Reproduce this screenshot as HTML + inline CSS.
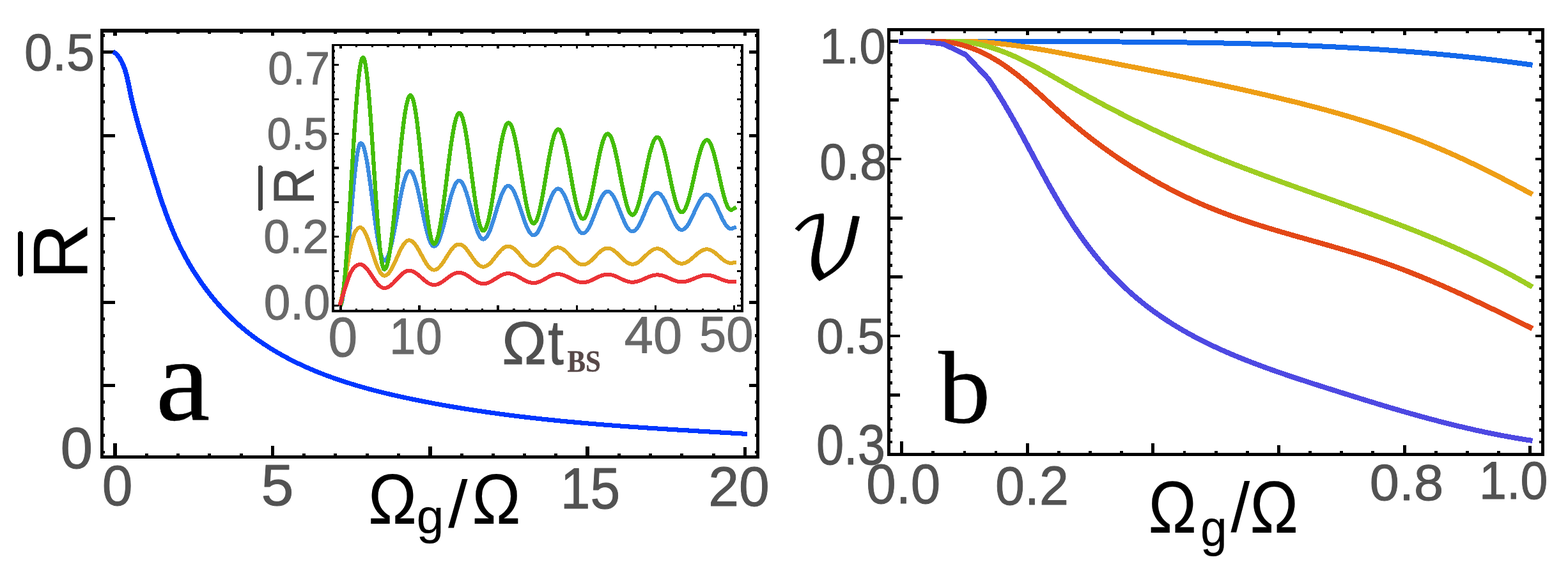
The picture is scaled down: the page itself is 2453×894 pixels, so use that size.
<!DOCTYPE html>
<html lang="en"><head><meta charset="utf-8"><title>Figure</title>
<style>
html,body{margin:0;padding:0;background:#fff;}
body{width:2453px;height:894px;overflow:hidden;font-family:"Liberation Sans",Arial,sans-serif;}
svg{display:block;}
text{white-space:pre;}
</style></head>
<body>
<svg width="2453" height="894" viewBox="0 0 2453 894" shape-rendering="crispEdges">
<rect x="0" y="0" width="2453" height="894" fill="#fff"/>
<rect x="177.25" y="694" width="5.5" height="20" fill="#000"/>
<rect x="177.25" y="50" width="5.5" height="6" fill="#000"/>
<rect x="423.62" y="697.5" width="5.5" height="16.5" fill="#000"/>
<rect x="423.62" y="50" width="5.5" height="6" fill="#000"/>
<rect x="670" y="698.5" width="5.5" height="15.5" fill="#000"/>
<rect x="670" y="50" width="5.5" height="6" fill="#000"/>
<rect x="916.38" y="699" width="5.5" height="15" fill="#000"/>
<rect x="916.38" y="50" width="5.5" height="6" fill="#000"/>
<rect x="1162.75" y="700" width="5.5" height="14" fill="#000"/>
<rect x="1162.75" y="50" width="5.5" height="6" fill="#000"/>
<rect x="226.78" y="710" width="5" height="4" fill="#000"/>
<rect x="226.78" y="50" width="5" height="3" fill="#000"/>
<rect x="276.05" y="710" width="5" height="4" fill="#000"/>
<rect x="276.05" y="50" width="5" height="3" fill="#000"/>
<rect x="325.32" y="710" width="5" height="4" fill="#000"/>
<rect x="325.32" y="50" width="5" height="3" fill="#000"/>
<rect x="374.6" y="710" width="5" height="4" fill="#000"/>
<rect x="374.6" y="50" width="5" height="3" fill="#000"/>
<rect x="473.15" y="710" width="5" height="4" fill="#000"/>
<rect x="473.15" y="50" width="5" height="3" fill="#000"/>
<rect x="522.42" y="710" width="5" height="4" fill="#000"/>
<rect x="522.42" y="50" width="5" height="3" fill="#000"/>
<rect x="571.7" y="710" width="5" height="4" fill="#000"/>
<rect x="571.7" y="50" width="5" height="3" fill="#000"/>
<rect x="620.97" y="710" width="5" height="4" fill="#000"/>
<rect x="620.97" y="50" width="5" height="3" fill="#000"/>
<rect x="719.52" y="710" width="5" height="4" fill="#000"/>
<rect x="719.52" y="50" width="5" height="3" fill="#000"/>
<rect x="768.8" y="710" width="5" height="4" fill="#000"/>
<rect x="768.8" y="50" width="5" height="3" fill="#000"/>
<rect x="818.07" y="710" width="5" height="4" fill="#000"/>
<rect x="818.07" y="50" width="5" height="3" fill="#000"/>
<rect x="867.35" y="710" width="5" height="4" fill="#000"/>
<rect x="867.35" y="50" width="5" height="3" fill="#000"/>
<rect x="965.9" y="710" width="5" height="4" fill="#000"/>
<rect x="965.9" y="50" width="5" height="3" fill="#000"/>
<rect x="1015.17" y="710" width="5" height="4" fill="#000"/>
<rect x="1015.17" y="50" width="5" height="3" fill="#000"/>
<rect x="1064.45" y="710" width="5" height="4" fill="#000"/>
<rect x="1064.45" y="50" width="5" height="3" fill="#000"/>
<rect x="1113.72" y="710" width="5" height="4" fill="#000"/>
<rect x="1113.72" y="50" width="5" height="3" fill="#000"/>
<rect x="161" y="79" width="19" height="5" fill="#000"/>
<rect x="1172" y="79" width="12" height="5" fill="#000"/>
<rect x="161" y="209.5" width="19" height="5" fill="#000"/>
<rect x="1172" y="209.5" width="12" height="5" fill="#000"/>
<rect x="161" y="340" width="19" height="5" fill="#000"/>
<rect x="161" y="470.5" width="19" height="5" fill="#000"/>
<rect x="1172" y="470.5" width="12" height="5" fill="#000"/>
<rect x="161" y="601" width="19" height="5" fill="#000"/>
<rect x="1172" y="601" width="12" height="5" fill="#000"/>
<rect x="161" y="53" width="3" height="4.8" fill="#000"/>
<rect x="1181" y="53" width="3" height="4.8" fill="#000"/>
<rect x="161" y="105.2" width="3" height="4.8" fill="#000"/>
<rect x="1181" y="105.2" width="3" height="4.8" fill="#000"/>
<rect x="161" y="131.3" width="3" height="4.8" fill="#000"/>
<rect x="1181" y="131.3" width="3" height="4.8" fill="#000"/>
<rect x="161" y="157.4" width="3" height="4.8" fill="#000"/>
<rect x="1181" y="157.4" width="3" height="4.8" fill="#000"/>
<rect x="161" y="183.5" width="3" height="4.8" fill="#000"/>
<rect x="1181" y="183.5" width="3" height="4.8" fill="#000"/>
<rect x="161" y="235.7" width="3" height="4.8" fill="#000"/>
<rect x="1181" y="235.7" width="3" height="4.8" fill="#000"/>
<rect x="161" y="261.8" width="3" height="4.8" fill="#000"/>
<rect x="1181" y="261.8" width="3" height="4.8" fill="#000"/>
<rect x="161" y="287.9" width="3" height="4.8" fill="#000"/>
<rect x="1181" y="287.9" width="3" height="4.8" fill="#000"/>
<rect x="161" y="314" width="3" height="4.8" fill="#000"/>
<rect x="1181" y="314" width="3" height="4.8" fill="#000"/>
<rect x="161" y="366.2" width="3" height="4.8" fill="#000"/>
<rect x="1181" y="366.2" width="3" height="4.8" fill="#000"/>
<rect x="161" y="392.3" width="3" height="4.8" fill="#000"/>
<rect x="1181" y="392.3" width="3" height="4.8" fill="#000"/>
<rect x="161" y="418.4" width="3" height="4.8" fill="#000"/>
<rect x="1181" y="418.4" width="3" height="4.8" fill="#000"/>
<rect x="161" y="444.5" width="3" height="4.8" fill="#000"/>
<rect x="1181" y="444.5" width="3" height="4.8" fill="#000"/>
<rect x="161" y="496.7" width="3" height="4.8" fill="#000"/>
<rect x="1181" y="496.7" width="3" height="4.8" fill="#000"/>
<rect x="161" y="522.8" width="3" height="4.8" fill="#000"/>
<rect x="1181" y="522.8" width="3" height="4.8" fill="#000"/>
<rect x="161" y="548.9" width="3" height="4.8" fill="#000"/>
<rect x="1181" y="548.9" width="3" height="4.8" fill="#000"/>
<rect x="161" y="575" width="3" height="4.8" fill="#000"/>
<rect x="1181" y="575" width="3" height="4.8" fill="#000"/>
<rect x="161" y="627.2" width="3" height="4.8" fill="#000"/>
<rect x="1181" y="627.2" width="3" height="4.8" fill="#000"/>
<rect x="161" y="653.3" width="3" height="4.8" fill="#000"/>
<rect x="1181" y="653.3" width="3" height="4.8" fill="#000"/>
<rect x="161" y="679.4" width="3" height="4.8" fill="#000"/>
<rect x="1181" y="679.4" width="3" height="4.8" fill="#000"/>
<rect x="161" y="705.5" width="3" height="4.8" fill="#000"/>
<rect x="1181" y="705.5" width="3" height="4.8" fill="#000"/>
<rect x="157" y="45" width="1031" height="6" fill="#000"/>
<rect x="157" y="713" width="1031" height="5" fill="#000"/>
<rect x="157" y="45" width="5" height="673" fill="#000"/>
<rect x="1183" y="45" width="5" height="673" fill="#000"/>
<path d="M163.71 81.09 L165.77 82.3 L167.6 83.76 L169.24 85.42 L170.73 87.25 L172.08 89.2 L173.35 91.23 L174.54 93.31 L175.65 95.46 L176.69 97.66 L177.67 99.91 L178.59 102.21 L179.45 104.56 L180.25 106.94 L181.01 109.37 L181.72 111.83 L182.39 114.32 L183.03 116.84 L183.63 119.39 L184.2 121.96 L184.75 124.54 L185.29 127.15 L185.8 129.77 L186.31 132.4 L186.8 135.03 L187.3 137.67 L187.79 140.31 L188.29 142.95 L188.8 145.58 L189.32 148.2 L189.85 150.82 L190.39 153.43 L190.94 156.04 L191.49 158.64 L192.06 161.24 L192.63 163.83 L193.21 166.41 L193.8 168.99 L194.4 171.57 L195 174.14 L195.61 176.71 L196.23 179.27 L196.85 181.83 L197.48 184.38 L198.12 186.93 L198.76 189.47 L199.41 192.02 L200.06 194.55 L200.72 197.09 L201.38 199.62 L202.05 202.15 L202.72 204.67 L203.4 207.19 L204.08 209.71 L204.76 212.23 L205.45 214.74 L206.14 217.25 L206.83 219.76 L207.52 222.27 L208.22 224.77 L208.92 227.27 L209.62 229.77 L210.32 232.27 L211.02 234.77 L211.73 237.27 L212.43 239.76 L213.14 242.26 L213.84 244.75 L214.55 247.24 L215.25 249.73 L215.96 252.22 L216.66 254.72 L217.37 257.21 L218.07 259.7 L218.77 262.19 L219.47 264.68 L220.18 267.16 L220.88 269.65 L221.58 272.14 L222.29 274.63 L223 277.11 L223.7 279.59 L224.41 282.08 L225.13 284.56 L225.84 287.04 L226.56 289.52 L227.28 292 L228.01 294.48 L228.74 296.95 L229.47 299.42 L230.2 301.9 L230.95 304.37 L231.69 306.83 L232.44 309.3 L233.2 311.76 L233.96 314.23 L234.73 316.69 L235.51 319.14 L236.29 321.6 L237.08 324.05 L237.88 326.5 L238.68 328.95 L239.49 331.4 L240.31 333.84 L241.14 336.28 L241.97 338.71 L242.82 341.15 L243.67 343.58 L244.54 346.01 L245.41 348.43 L246.3 350.85 L247.19 353.27 L248.09 355.68 L249.01 358.09 L249.94 360.5 L250.88 362.91 L251.83 365.31 L252.79 367.7 L253.77 370.09 L254.75 372.48 L255.75 374.87 L256.77 377.25 L257.8 379.62 L258.84 381.99 L259.89 384.36 L260.96 386.72 L262.05 389.08 L263.15 391.43 L264.26 393.78 L265.39 396.13 L266.54 398.46 L267.7 400.8 L268.87 403.12 L270.06 405.44 L271.26 407.76 L272.47 410.06 L273.7 412.37 L274.95 414.66 L276.21 416.95 L277.48 419.22 L278.76 421.5 L280.06 423.76 L281.37 426.02 L282.7 428.26 L284.04 430.5 L285.39 432.73 L286.76 434.95 L288.14 437.16 L289.53 439.36 L290.94 441.56 L292.36 443.74 L293.79 445.91 L295.23 448.07 L296.69 450.22 L298.16 452.36 L299.64 454.49 L301.14 456.61 L302.65 458.71 L304.17 460.8 L305.7 462.89 L307.24 464.95 L308.8 467.01 L310.37 469.05 L311.94 471.09 L313.54 473.1 L315.14 475.11 L316.75 477.1 L318.38 479.07 L320.02 481.04 L321.67 482.98 L323.33 484.92 L325 486.83 L326.68 488.74 L328.38 490.62 L330.08 492.5 L331.8 494.35 L333.52 496.19 L335.26 498.02 L337.01 499.83 L338.77 501.62 L340.54 503.39 L342.32 505.15 L344.11 506.89 L345.91 508.62 L347.72 510.33 L349.54 512.02 L351.37 513.7 L353.2 515.36 L355.05 517 L356.91 518.64 L358.78 520.25 L360.66 521.85 L362.55 523.43 L364.45 525 L366.35 526.56 L368.27 528.1 L370.19 529.62 L372.13 531.13 L374.07 532.63 L376.02 534.11 L377.98 535.57 L379.95 537.02 L381.93 538.46 L383.91 539.88 L385.9 541.29 L387.91 542.69 L389.92 544.07 L391.94 545.44 L393.96 546.79 L396 548.13 L398.04 549.46 L400.09 550.77 L402.15 552.07 L404.22 553.36 L406.29 554.63 L408.37 555.89 L410.46 557.14 L412.55 558.37 L414.66 559.6 L416.77 560.81 L418.88 562 L421.01 563.19 L423.14 564.36 L425.27 565.52 L427.42 566.67 L429.57 567.81 L431.73 568.93 L433.89 570.04 L436.06 571.15 L438.24 572.24 L440.42 573.31 L442.61 574.38 L444.8 575.44 L447 576.48 L449.21 577.52 L451.42 578.54 L453.64 579.55 L455.86 580.55 L458.09 581.54 L460.32 582.52 L462.56 583.49 L464.81 584.45 L467.06 585.4 L469.31 586.34 L471.57 587.27 L473.83 588.18 L476.1 589.09 L478.38 589.99 L480.66 590.88 L482.94 591.76 L485.23 592.63 L487.52 593.49 L489.81 594.34 L492.11 595.19 L494.42 596.02 L496.73 596.85 L499.04 597.66 L501.36 598.47 L503.68 599.27 L506 600.06 L508.33 600.84 L510.66 601.61 L512.99 602.38 L515.33 603.14 L517.67 603.88 L520.01 604.63 L522.36 605.36 L524.71 606.08 L527.06 606.8 L529.42 607.51 L531.78 608.22 L534.14 608.91 L536.5 609.6 L538.87 610.28 L541.24 610.95 L543.61 611.62 L545.98 612.28 L548.36 612.94 L550.73 613.58 L553.11 614.22 L555.49 614.86 L557.87 615.49 L560.26 616.11 L562.65 616.72 L565.03 617.33 L567.42 617.94 L569.81 618.54 L572.2 619.13 L574.6 619.71 L576.99 620.3 L579.38 620.87 L581.78 621.44 L584.18 622.01 L586.57 622.57 L588.97 623.12 L591.37 623.67 L593.77 624.22 L596.17 624.76 L598.57 625.29 L600.97 625.83 L603.37 626.35 L605.77 626.88 L608.17 627.39 L610.57 627.91 L612.97 628.42 L615.37 628.93 L617.77 629.43 L620.17 629.93 L622.57 630.42 L624.97 630.91 L627.37 631.4 L629.76 631.88 L632.16 632.36 L634.56 632.84 L636.96 633.31 L639.36 633.78 L641.76 634.24 L644.16 634.7 L646.55 635.16 L648.95 635.61 L651.35 636.06 L653.75 636.51 L656.14 636.95 L658.54 637.39 L660.94 637.82 L663.34 638.25 L665.73 638.68 L668.13 639.11 L670.53 639.53 L672.92 639.94 L675.32 640.36 L677.72 640.77 L680.12 641.18 L682.51 641.58 L684.91 641.98 L687.31 642.38 L689.7 642.77 L692.1 643.16 L694.5 643.55 L696.89 643.93 L699.29 644.32 L701.68 644.69 L704.08 645.07 L706.48 645.44 L708.87 645.81 L711.27 646.17 L713.67 646.54 L716.06 646.89 L718.46 647.25 L720.86 647.6 L723.25 647.95 L725.65 648.3 L728.05 648.65 L730.44 648.99 L732.84 649.32 L735.24 649.66 L737.63 649.99 L740.03 650.32 L742.42 650.65 L744.82 650.97 L747.22 651.3 L749.62 651.61 L752.01 651.93 L754.41 652.24 L756.81 652.56 L759.2 652.86 L761.6 653.17 L764 653.47 L766.39 653.77 L768.79 654.07 L771.19 654.36 L773.59 654.66 L775.98 654.95 L778.38 655.24 L780.78 655.52 L783.18 655.8 L785.58 656.08 L787.97 656.36 L790.37 656.64 L792.77 656.91 L795.17 657.18 L797.57 657.45 L799.97 657.72 L802.37 657.98 L804.76 658.25 L807.16 658.51 L809.56 658.76 L811.96 659.02 L814.36 659.27 L816.76 659.52 L819.16 659.77 L821.56 660.02 L823.96 660.27 L826.36 660.51 L828.76 660.75 L831.17 660.99 L833.57 661.23 L835.97 661.46 L838.37 661.7 L840.77 661.93 L843.17 662.16 L845.57 662.39 L847.98 662.61 L850.38 662.84 L852.78 663.06 L855.18 663.28 L857.59 663.5 L859.99 663.72 L862.39 663.93 L864.8 664.15 L867.2 664.36 L869.61 664.57 L872.01 664.78 L874.42 664.99 L876.82 665.19 L879.23 665.4 L881.63 665.6 L884.04 665.8 L886.44 666 L888.85 666.2 L891.26 666.4 L893.66 666.6 L896.07 666.79 L898.48 666.98 L900.89 667.18 L903.3 667.37 L905.7 667.56 L908.11 667.75 L910.52 667.93 L912.93 668.12 L915.34 668.3 L917.75 668.49 L920.16 668.67 L922.57 668.85 L924.98 669.03 L927.39 669.21 L929.81 669.39 L932.22 669.57 L934.63 669.74 L937.04 669.92 L939.46 670.09 L941.87 670.26 L944.28 670.44 L946.7 670.61 L949.11 670.78 L951.53 670.95 L953.94 671.12 L956.36 671.29 L958.77 671.45 L961.19 671.62 L963.61 671.79 L966.02 671.95 L968.44 672.12 L970.86 672.28 L973.28 672.44 L975.7 672.61 L978.12 672.77 L980.54 672.93 L982.96 673.09 L985.38 673.25 L987.8 673.41 L990.22 673.57 L992.64 673.73 L995.06 673.89 L997.49 674.05 L999.91 674.2 L1002.33 674.36 L1004.76 674.52 L1007.18 674.68 L1009.61 674.83 L1012.03 674.99 L1014.46 675.14 L1016.88 675.3 L1019.31 675.46 L1021.74 675.61 L1024.17 675.77 L1026.6 675.92 L1029.02 676.08 L1031.45 676.23 L1033.88 676.39 L1036.31 676.54 L1038.75 676.7 L1041.18 676.85 L1043.61 677 L1046.04 677.16 L1048.47 677.31 L1050.91 677.47 L1053.34 677.62 L1055.78 677.78 L1058.21 677.93 L1060.65 678.09 L1063.08 678.25 L1065.52 678.4 L1067.96 678.56 L1070.4 678.71 L1072.83 678.87 L1075.27 679.03 L1077.71 679.19 L1080.15 679.34 L1082.59 679.5" transform="scale(1.08 1)" fill="none" stroke="#0037ff" stroke-width="7.1" stroke-linejoin="round" stroke-linecap="butt"/>
<rect x="520" y="70" width="642" height="417" fill="#fff"/>
<path d="M501.23 479.6 L502.27 478.9 L503.31 476.81 L504.36 473.35 L505.4 468.55 L506.45 462.48 L507.49 455.19 L508.53 446.77 L509.58 437.31 L510.62 426.92 L511.67 415.7 L512.71 403.78 L513.75 391.29 L514.8 378.37 L515.84 365.16 L516.89 351.8 L517.93 338.44 L518.97 325.23 L520.02 312.31 L521.06 299.82 L522.11 287.9 L523.15 276.68 L524.19 266.29 L525.24 256.83 L526.28 248.41 L527.33 241.12 L528.37 235.05 L529.42 230.25 L530.46 226.79 L531.5 224.7 L532.55 224 L533.99 224.79 L535.44 227.13 L536.89 231 L538.33 236.33 L539.78 243.01 L541.23 250.95 L542.67 259.99 L544.12 270 L545.57 280.79 L547.01 292.19 L548.46 303.99 L549.91 316 L551.35 328.01 L552.8 339.81 L554.25 351.21 L555.69 362 L557.14 372.01 L558.58 381.05 L560.03 388.99 L561.48 395.67 L562.92 401 L564.37 404.87 L565.82 407.21 L567.26 408 L568.82 407.4 L570.39 405.61 L571.95 402.65 L573.51 398.59 L575.07 393.48 L576.63 387.42 L578.19 380.52 L579.75 372.88 L581.31 364.63 L582.87 355.93 L584.43 346.92 L585.99 337.75 L587.55 328.58 L589.11 319.57 L590.67 310.87 L592.23 302.62 L593.79 294.98 L595.35 288.08 L596.91 282.02 L598.47 276.91 L600.04 272.85 L601.6 269.89 L603.16 268.1 L604.72 267.5 L606.21 268.01 L607.7 269.51 L609.2 272 L610.69 275.42 L612.19 279.71 L613.68 284.81 L615.17 290.62 L616.67 297.05 L618.16 303.98 L619.65 311.3 L621.15 318.89 L622.64 326.6 L624.14 334.31 L625.63 341.9 L627.12 349.22 L628.62 356.15 L630.11 362.58 L631.6 368.39 L633.1 373.49 L634.59 377.78 L636.08 381.2 L637.58 383.69 L639.07 385.19 L640.57 385.7 L642.11 385.26 L643.66 383.95 L645.2 381.78 L646.75 378.81 L648.29 375.07 L649.83 370.63 L651.38 365.57 L652.92 359.98 L654.47 353.94 L656.01 347.57 L657.56 340.97 L659.1 334.25 L660.65 327.53 L662.19 320.93 L663.74 314.56 L665.28 308.53 L666.83 302.93 L668.37 297.87 L669.92 293.43 L671.46 289.69 L673.01 286.72 L674.55 284.55 L676.1 283.24 L677.64 282.8 L679.12 283.19 L680.61 284.36 L682.09 286.29 L683.57 288.95 L685.05 292.29 L686.53 296.24 L688.01 300.76 L689.5 305.75 L690.98 311.13 L692.46 316.82 L693.94 322.71 L695.42 328.7 L696.91 334.69 L698.39 340.58 L699.87 346.27 L701.35 351.65 L702.83 356.64 L704.32 361.16 L705.8 365.11 L707.28 368.45 L708.76 371.11 L710.24 373.04 L711.73 374.21 L713.21 374.6 L714.75 374.24 L716.29 373.17 L717.83 371.41 L719.37 368.99 L720.91 365.95 L722.45 362.34 L723.99 358.23 L725.53 353.68 L727.08 348.77 L728.62 343.58 L730.16 338.21 L731.7 332.75 L733.24 327.29 L734.78 321.92 L736.32 316.73 L737.86 311.82 L739.4 307.27 L740.94 303.16 L742.48 299.55 L744.03 296.51 L745.57 294.09 L747.11 292.33 L748.65 291.26 L750.19 290.9 L751.75 291.23 L753.3 292.22 L754.86 293.85 L756.42 296.09 L757.97 298.91 L759.53 302.25 L761.08 306.06 L762.64 310.27 L764.2 314.82 L765.75 319.62 L767.31 324.59 L768.87 329.65 L770.42 334.71 L771.98 339.68 L773.54 344.48 L775.09 349.02 L776.65 353.24 L778.21 357.05 L779.76 360.39 L781.32 363.21 L782.88 365.45 L784.43 367.08 L785.99 368.07 L787.55 368.4 L789.05 368.09 L790.55 367.16 L792.05 365.62 L793.55 363.51 L795.06 360.86 L796.56 357.71 L798.06 354.12 L799.56 350.15 L801.06 345.87 L802.56 341.35 L804.06 336.66 L805.57 331.9 L807.07 327.14 L808.57 322.45 L810.07 317.93 L811.57 313.65 L813.07 309.68 L814.58 306.09 L816.08 302.94 L817.58 300.29 L819.08 298.18 L820.58 296.64 L822.08 295.71 L823.58 295.4 L825.11 295.7 L826.64 296.59 L828.17 298.06 L829.7 300.09 L831.23 302.63 L832.76 305.65 L834.29 309.09 L835.82 312.9 L837.35 317.01 L838.88 321.34 L840.4 325.83 L841.93 330.4 L843.46 334.97 L844.99 339.46 L846.52 343.79 L848.05 347.9 L849.58 351.71 L851.11 355.15 L852.64 358.17 L854.17 360.71 L855.7 362.74 L857.22 364.21 L858.75 365.1 L860.28 365.4 L861.81 365.12 L863.33 364.28 L864.86 362.9 L866.38 360.99 L867.91 358.6 L869.43 355.76 L870.96 352.53 L872.48 348.95 L874.01 345.09 L875.53 341.02 L877.06 336.79 L878.58 332.5 L880.11 328.21 L881.64 323.98 L883.16 319.91 L884.69 316.05 L886.21 312.47 L887.74 309.24 L889.26 306.4 L890.79 304.01 L892.31 302.1 L893.84 300.72 L895.36 299.88 L896.89 299.6 L898.41 299.87 L899.93 300.67 L901.45 301.99 L902.97 303.81 L904.49 306.1 L906.01 308.81 L907.54 311.9 L909.06 315.32 L910.58 319.01 L912.1 322.91 L913.62 326.94 L915.14 331.05 L916.66 335.16 L918.18 339.19 L919.71 343.09 L921.23 346.77 L922.75 350.2 L924.27 353.29 L925.79 356 L927.31 358.29 L928.83 360.11 L930.35 361.43 L931.88 362.23 L933.4 362.5 L934.93 362.24 L936.45 361.47 L937.98 360.2 L939.51 358.45 L941.04 356.25 L942.57 353.64 L944.1 350.67 L945.63 347.38 L947.16 343.83 L948.69 340.08 L950.22 336.2 L951.75 332.25 L953.27 328.3 L954.8 324.42 L956.33 320.67 L957.86 317.12 L959.39 313.83 L960.92 310.86 L962.45 308.25 L963.98 306.05 L965.51 304.3 L967.04 303.03 L968.57 302.26 L970.09 302 L971.59 302.25 L973.09 302.99 L974.59 304.21 L976.08 305.89 L977.58 307.99 L979.08 310.49 L980.58 313.35 L982.08 316.5 L983.57 319.9 L985.07 323.49 L986.57 327.21 L988.07 331 L989.56 334.79 L991.06 338.51 L992.56 342.1 L994.06 345.5 L995.55 348.65 L997.05 351.51 L998.55 354.01 L1000.05 356.11 L1001.54 357.79 L1003.04 359.01 L1004.54 359.75 L1006.04 360 L1007.59 359.76 L1009.14 359.05 L1010.68 357.89 L1012.23 356.28 L1013.78 354.27 L1015.33 351.87 L1016.88 349.14 L1018.43 346.12 L1019.98 342.87 L1021.53 339.43 L1023.07 335.87 L1024.62 332.25 L1026.17 328.63 L1027.72 325.07 L1029.27 321.63 L1030.82 318.38 L1032.37 315.36 L1033.92 312.63 L1035.46 310.23 L1037.01 308.22 L1038.56 306.61 L1040.11 305.45 L1041.66 304.74 L1043.21 304.5 L1044.7 304.73 L1046.19 305.42 L1047.69 306.55 L1049.18 308.1 L1050.68 310.06 L1052.17 312.38 L1053.66 315.02 L1055.16 317.95 L1056.65 321.11 L1058.14 324.44 L1059.64 327.89 L1061.13 331.4 L1062.63 334.91 L1064.12 338.36 L1065.61 341.69 L1067.11 344.85 L1068.6 347.78 L1070.09 350.42 L1071.59 352.74 L1073.08 354.7 L1074.58 356.25 L1076.07 357.38 L1077.56 358.07 L1079.06 358.3 L1086.79 355.3" transform="scale(1.06 1)" fill="none" stroke="#3c8ce0" stroke-width="6" stroke-linejoin="round" stroke-linecap="butt"/>
<path d="M501.23 479.6 L502.26 475.11 L503.29 470.38 L504.32 465.42 L505.35 460.24 L506.38 454.87 L507.41 449.32 L508.45 443.59 L509.48 437.4 L510.51 430.74 L511.54 423.82 L512.57 416.86 L513.6 410.08 L514.63 403.7 L515.66 397.69 L516.69 391.73 L517.73 386.08 L518.76 381.05 L519.79 376.84 L520.82 372.88 L521.85 369.19 L522.88 365.93 L523.91 363.29 L524.94 361.45 L525.98 360.05 L527.01 358.76 L528.04 357.65 L529.07 356.78 L530.1 356.21 L531.13 356 L532.64 356.32 L534.14 357.29 L535.65 358.88 L537.15 361.07 L538.66 363.82 L540.17 367.09 L541.67 370.81 L543.18 374.93 L544.68 379.37 L546.19 384.05 L547.69 388.91 L549.2 393.85 L550.7 398.79 L552.21 403.65 L553.71 408.33 L555.22 412.77 L556.73 416.89 L558.23 420.61 L559.74 423.88 L561.24 426.63 L562.75 428.82 L564.25 430.41 L565.76 431.38 L567.26 431.7 L568.79 431.46 L570.31 430.76 L571.83 429.59 L573.35 427.99 L574.87 425.98 L576.39 423.59 L577.91 420.86 L579.43 417.85 L580.96 414.6 L582.48 411.17 L584 407.62 L585.52 404 L587.04 400.38 L588.56 396.83 L590.08 393.4 L591.6 390.15 L593.12 387.14 L594.65 384.41 L596.17 382.02 L597.69 380.01 L599.21 378.41 L600.73 377.24 L602.25 376.54 L603.77 376.3 L605.31 376.5 L606.84 377.09 L608.37 378.06 L609.91 379.4 L611.44 381.08 L612.97 383.08 L614.5 385.36 L616.04 387.88 L617.57 390.59 L619.1 393.46 L620.64 396.43 L622.17 399.45 L623.7 402.47 L625.24 405.44 L626.77 408.31 L628.3 411.03 L629.83 413.54 L631.37 415.82 L632.9 417.82 L634.43 419.5 L635.97 420.84 L637.5 421.81 L639.03 422.4 L640.57 422.6 L642.1 422.43 L643.63 421.92 L645.17 421.07 L646.7 419.91 L648.23 418.46 L649.76 416.73 L651.3 414.76 L652.83 412.58 L654.36 410.22 L655.9 407.74 L657.43 405.17 L658.96 402.55 L660.5 399.93 L662.03 397.36 L663.56 394.88 L665.09 392.53 L666.63 390.34 L668.16 388.37 L669.69 386.64 L671.23 385.19 L672.76 384.03 L674.29 383.18 L675.83 382.67 L677.36 382.5 L678.85 382.65 L680.35 383.1 L681.84 383.84 L683.33 384.86 L684.83 386.14 L686.32 387.65 L687.81 389.39 L689.31 391.3 L690.8 393.36 L692.3 395.54 L693.79 397.8 L695.28 400.1 L696.78 402.4 L698.27 404.66 L699.76 406.84 L701.26 408.9 L702.75 410.81 L704.25 412.55 L705.74 414.06 L707.23 415.34 L708.73 416.36 L710.22 417.1 L711.71 417.55 L713.21 417.7 L714.74 417.56 L716.27 417.15 L717.81 416.48 L719.34 415.56 L720.87 414.39 L722.41 413.01 L723.94 411.44 L725.47 409.7 L727 407.82 L728.54 405.84 L730.07 403.79 L731.6 401.7 L733.14 399.61 L734.67 397.56 L736.2 395.58 L737.74 393.7 L739.27 391.96 L740.8 390.39 L742.33 389.01 L743.87 387.84 L745.4 386.92 L746.93 386.25 L748.47 385.84 L750 385.7 L751.56 385.83 L753.13 386.22 L754.69 386.85 L756.26 387.73 L757.82 388.83 L759.39 390.14 L760.95 391.63 L762.52 393.27 L764.08 395.05 L765.64 396.93 L767.21 398.87 L768.77 400.85 L770.34 402.83 L771.9 404.77 L773.47 406.65 L775.03 408.43 L776.6 410.07 L778.16 411.56 L779.72 412.87 L781.29 413.97 L782.85 414.85 L784.42 415.48 L785.98 415.87 L787.55 416 L789.03 415.88 L790.51 415.51 L791.99 414.91 L793.47 414.08 L794.96 413.04 L796.44 411.81 L797.92 410.41 L799.4 408.85 L800.88 407.17 L802.37 405.4 L803.85 403.57 L805.33 401.7 L806.81 399.83 L808.29 398 L809.78 396.23 L811.26 394.55 L812.74 392.99 L814.22 391.59 L815.7 390.36 L817.19 389.32 L818.67 388.49 L820.15 387.89 L821.63 387.52 L823.11 387.4 L824.66 387.52 L826.21 387.86 L827.76 388.43 L829.31 389.21 L830.86 390.19 L832.41 391.35 L833.95 392.68 L835.5 394.15 L837.05 395.73 L838.6 397.41 L840.15 399.14 L841.7 400.9 L843.25 402.66 L844.8 404.39 L846.34 406.07 L847.89 407.65 L849.44 409.12 L850.99 410.45 L852.54 411.61 L854.09 412.59 L855.64 413.37 L857.19 413.94 L858.73 414.28 L860.28 414.4 L861.8 414.29 L863.32 413.96 L864.83 413.42 L866.35 412.67 L867.87 411.73 L869.39 410.62 L870.9 409.35 L872.42 407.95 L873.94 406.44 L875.46 404.84 L876.97 403.18 L878.49 401.5 L880.01 399.82 L881.53 398.16 L883.04 396.56 L884.56 395.05 L886.08 393.65 L887.59 392.38 L889.11 391.27 L890.63 390.33 L892.15 389.58 L893.66 389.04 L895.18 388.71 L896.7 388.6 L898.23 388.71 L899.76 389.03 L901.29 389.56 L902.81 390.28 L904.34 391.19 L905.87 392.28 L907.4 393.51 L908.93 394.88 L910.46 396.35 L911.99 397.9 L913.52 399.51 L915.05 401.15 L916.58 402.79 L918.11 404.4 L919.63 405.95 L921.16 407.43 L922.69 408.79 L924.22 410.02 L925.75 411.11 L927.28 412.02 L928.81 412.74 L930.34 413.27 L931.87 413.59 L933.4 413.7 L934.93 413.6 L936.45 413.28 L937.98 412.77 L939.51 412.07 L941.04 411.18 L942.57 410.13 L944.1 408.93 L945.63 407.6 L947.16 406.17 L948.69 404.66 L950.22 403.09 L951.75 401.5 L953.27 399.91 L954.8 398.34 L956.33 396.83 L957.86 395.4 L959.39 394.07 L960.92 392.87 L962.45 391.82 L963.98 390.93 L965.51 390.23 L967.04 389.72 L968.57 389.4 L970.09 389.3 L971.59 389.4 L973.09 389.7 L974.59 390.19 L976.08 390.87 L977.58 391.72 L979.08 392.73 L980.58 393.88 L982.08 395.15 L983.57 396.52 L985.07 397.97 L986.57 399.47 L988.07 401 L989.56 402.53 L991.06 404.03 L992.56 405.48 L994.06 406.85 L995.55 408.12 L997.05 409.27 L998.55 410.28 L1000.05 411.13 L1001.54 411.81 L1003.04 412.3 L1004.54 412.6 L1006.04 412.7 L1007.59 412.6 L1009.14 412.32 L1010.68 411.85 L1012.23 411.2 L1013.78 410.39 L1015.33 409.42 L1016.88 408.32 L1018.43 407.1 L1019.98 405.79 L1021.53 404.4 L1023.07 402.96 L1024.62 401.5 L1026.17 400.04 L1027.72 398.6 L1029.27 397.21 L1030.82 395.9 L1032.37 394.68 L1033.92 393.58 L1035.46 392.61 L1037.01 391.8 L1038.56 391.15 L1040.11 390.68 L1041.66 390.4 L1043.21 390.3 L1044.7 390.39 L1046.19 390.67 L1047.69 391.13 L1049.18 391.75 L1050.68 392.54 L1052.17 393.48 L1053.66 394.54 L1055.16 395.73 L1056.65 397 L1058.14 398.34 L1059.64 399.73 L1061.13 401.15 L1062.63 402.57 L1064.12 403.96 L1065.61 405.3 L1067.11 406.57 L1068.6 407.76 L1070.09 408.82 L1071.59 409.76 L1073.08 410.55 L1074.58 411.17 L1076.07 411.63 L1077.56 411.91 L1079.06 412 L1086.79 410.5" transform="scale(1.06 1)" fill="none" stroke="#e0ac24" stroke-width="6" stroke-linejoin="round" stroke-linecap="butt"/>
<path d="M501.23 479.6 L502.37 478.53 L503.52 475.34 L504.67 470.07 L505.82 462.76 L506.97 453.5 L508.11 442.4 L509.26 429.56 L510.41 415.15 L511.56 399.3 L512.7 382.2 L513.85 364.03 L515 345 L516.15 325.3 L517.3 305.16 L518.44 284.8 L519.59 264.44 L520.74 244.3 L521.89 224.6 L523.03 205.57 L524.18 187.4 L525.33 170.3 L526.48 154.45 L527.63 140.04 L528.77 127.2 L529.92 116.1 L531.07 106.84 L532.22 99.53 L533.36 94.26 L534.51 91.07 L535.66 90 L536.98 91.42 L538.29 95.66 L539.61 102.64 L540.93 112.24 L542.24 124.3 L543.56 138.62 L544.88 154.95 L546.19 173 L547.51 192.47 L548.83 213.04 L550.15 234.33 L551.46 256 L552.78 277.67 L554.1 298.96 L555.41 319.53 L556.73 339 L558.05 357.05 L559.36 373.38 L560.68 387.7 L562 399.76 L563.31 409.36 L564.63 416.34 L565.95 420.58 L567.26 422 L568.87 420.83 L570.47 417.35 L572.08 411.61 L573.68 403.71 L575.28 393.79 L576.89 382.02 L578.49 368.6 L580.09 353.75 L581.7 337.74 L583.3 320.83 L584.91 303.32 L586.51 285.5 L588.11 267.68 L589.72 250.17 L591.32 233.26 L592.92 217.25 L594.53 202.4 L596.13 188.98 L597.74 177.21 L599.34 167.29 L600.94 159.39 L602.55 153.65 L604.15 150.17 L605.75 149 L607.21 150 L608.66 152.97 L610.11 157.87 L611.56 164.61 L613.01 173.07 L614.46 183.12 L615.91 194.58 L617.36 207.25 L618.81 220.92 L620.26 235.35 L621.71 250.29 L623.16 265.5 L624.61 280.71 L626.06 295.65 L627.51 310.08 L628.96 323.75 L630.41 336.42 L631.86 347.88 L633.31 357.93 L634.76 366.39 L636.21 373.13 L637.67 378.03 L639.12 381 L640.57 382 L642.13 381.12 L643.69 378.5 L645.25 374.19 L646.81 368.25 L648.37 360.79 L649.93 351.93 L651.49 341.84 L653.05 330.68 L654.61 318.63 L656.17 305.92 L657.73 292.75 L659.29 279.35 L660.85 265.95 L662.41 252.78 L663.97 240.07 L665.53 228.03 L667.1 216.86 L668.66 206.77 L670.22 197.91 L671.78 190.45 L673.34 184.51 L674.9 180.2 L676.46 177.58 L678.02 176.7 L679.49 177.49 L680.95 179.85 L682.42 183.73 L683.88 189.08 L685.35 195.79 L686.82 203.76 L688.28 212.85 L689.75 222.9 L691.21 233.74 L692.68 245.19 L694.15 257.04 L695.61 269.1 L697.08 281.16 L698.55 293.01 L700.01 304.46 L701.48 315.3 L702.94 325.35 L704.41 334.44 L705.88 342.41 L707.34 349.12 L708.81 354.47 L710.28 358.35 L711.74 360.71 L713.21 361.5 L714.76 360.77 L716.31 358.61 L717.87 355.05 L719.42 350.15 L720.97 343.99 L722.52 336.68 L724.08 328.34 L725.63 319.12 L727.18 309.18 L728.73 298.68 L730.29 287.81 L731.84 276.75 L733.39 265.69 L734.94 254.82 L736.5 244.32 L738.05 234.38 L739.6 225.16 L741.16 216.82 L742.71 209.51 L744.26 203.35 L745.81 198.45 L747.37 194.89 L748.92 192.73 L750.47 192 L752.02 192.68 L753.56 194.69 L755.11 198.01 L756.65 202.58 L758.2 208.33 L759.74 215.14 L761.29 222.91 L762.83 231.5 L764.37 240.77 L765.92 250.55 L767.46 260.69 L769.01 271 L770.55 281.31 L772.1 291.45 L773.64 301.23 L775.19 310.5 L776.73 319.09 L778.28 326.86 L779.82 333.67 L781.37 339.42 L782.91 343.99 L784.46 347.31 L786 349.32 L787.55 350 L789.06 349.37 L790.57 347.49 L792.08 344.38 L793.58 340.11 L795.09 334.75 L796.6 328.38 L798.11 321.13 L799.62 313.1 L801.13 304.44 L802.64 295.3 L804.15 285.83 L805.66 276.2 L807.17 266.57 L808.68 257.1 L810.19 247.96 L811.7 239.3 L813.21 231.27 L814.72 224.02 L816.23 217.65 L817.74 212.29 L819.25 208.02 L820.75 204.91 L822.26 203.03 L823.77 202.4 L825.29 203 L826.82 204.79 L828.34 207.74 L829.86 211.81 L831.38 216.91 L832.9 222.96 L834.42 229.86 L835.94 237.5 L837.46 245.74 L838.99 254.43 L840.51 263.44 L842.03 272.6 L843.55 281.76 L845.07 290.77 L846.59 299.46 L848.11 307.7 L849.63 315.34 L851.16 322.24 L852.68 328.29 L854.2 333.39 L855.72 337.46 L857.24 340.41 L858.76 342.2 L860.28 342.8 L861.81 342.23 L863.33 340.53 L864.86 337.72 L866.38 333.86 L867.91 329.01 L869.43 323.25 L870.96 316.68 L872.48 309.43 L874.01 301.59 L875.53 293.33 L877.06 284.76 L878.58 276.05 L880.11 267.34 L881.64 258.77 L883.16 250.51 L884.69 242.68 L886.21 235.42 L887.74 228.85 L889.26 223.09 L890.79 218.24 L892.31 214.38 L893.84 211.57 L895.36 209.87 L896.89 209.3 L898.41 209.85 L899.93 211.47 L901.45 214.15 L902.97 217.84 L904.49 222.47 L906.01 227.97 L907.54 234.24 L909.06 241.18 L910.58 248.65 L912.1 256.55 L913.62 264.73 L915.14 273.05 L916.66 281.37 L918.18 289.55 L919.71 297.45 L921.23 304.93 L922.75 311.86 L924.27 318.13 L925.79 323.63 L927.31 328.26 L928.83 331.95 L930.35 334.63 L931.88 336.25 L933.4 336.8 L934.93 336.28 L936.45 334.72 L937.98 332.15 L939.51 328.62 L941.04 324.18 L942.57 318.92 L944.1 312.91 L945.63 306.28 L947.16 299.11 L948.69 291.55 L950.22 283.72 L951.75 275.75 L953.27 267.78 L954.8 259.95 L956.33 252.39 L957.86 245.23 L959.39 238.59 L960.92 232.58 L962.45 227.32 L963.98 222.88 L965.51 219.35 L967.04 216.78 L968.57 215.22 L970.09 214.7 L971.59 215.2 L973.09 216.71 L974.59 219.18 L976.08 222.58 L977.58 226.86 L979.08 231.94 L980.58 237.72 L982.08 244.12 L983.57 251.03 L985.07 258.32 L986.57 265.87 L988.07 273.55 L989.56 281.23 L991.06 288.78 L992.56 296.07 L994.06 302.97 L995.55 309.38 L997.05 315.16 L998.55 320.24 L1000.05 324.52 L1001.54 327.92 L1003.04 330.39 L1004.54 331.9 L1006.04 332.4 L1007.59 331.92 L1009.14 330.47 L1010.68 328.09 L1012.23 324.81 L1013.78 320.69 L1015.33 315.81 L1016.88 310.24 L1018.43 304.07 L1019.98 297.43 L1021.53 290.41 L1023.07 283.14 L1024.62 275.75 L1026.17 268.36 L1027.72 261.09 L1029.27 254.07 L1030.82 247.43 L1032.37 241.26 L1033.92 235.69 L1035.46 230.81 L1037.01 226.69 L1038.56 223.41 L1040.11 221.03 L1041.66 219.58 L1043.21 219.1 L1044.7 219.57 L1046.19 220.97 L1047.69 223.28 L1049.18 226.46 L1050.68 230.46 L1052.17 235.19 L1053.66 240.6 L1055.16 246.57 L1056.65 253.02 L1058.14 259.83 L1059.64 266.88 L1061.13 274.05 L1062.63 281.22 L1064.12 288.27 L1065.61 295.08 L1067.11 301.52 L1068.6 307.5 L1070.09 312.91 L1071.59 317.64 L1073.08 321.64 L1074.58 324.82 L1076.07 327.13 L1077.56 328.53 L1079.06 329 L1086.79 324.5" transform="scale(1.06 1)" fill="none" stroke="#44bd08" stroke-width="6" stroke-linejoin="round" stroke-linecap="butt"/>
<path d="M501.23 479.6 L502.26 475.86 L503.29 472.16 L504.32 468.48 L505.35 464.84 L506.38 461.23 L507.41 457.65 L508.45 454.02 L509.48 450.37 L510.51 446.8 L511.54 443.37 L512.57 440.18 L513.6 437.21 L514.63 434.32 L515.66 431.57 L516.69 429.02 L517.73 426.74 L518.76 424.74 L519.79 422.85 L520.82 421.07 L521.85 419.5 L522.88 418.22 L523.91 417.3 L524.94 416.55 L525.98 415.85 L527.01 415.21 L528.04 414.68 L529.07 414.26 L530.1 413.99 L531.13 413.9 L532.64 414.06 L534.14 414.53 L535.65 415.31 L537.15 416.39 L538.66 417.73 L540.17 419.33 L541.67 421.16 L543.18 423.17 L544.68 425.35 L546.19 427.65 L547.69 430.03 L549.2 432.45 L550.7 434.87 L552.21 437.25 L553.71 439.55 L555.22 441.72 L556.73 443.74 L558.23 445.57 L559.74 447.17 L561.24 448.51 L562.75 449.59 L564.25 450.37 L565.76 450.84 L567.26 451 L568.79 450.88 L570.31 450.54 L571.83 449.96 L573.35 449.18 L574.87 448.19 L576.39 447.02 L577.91 445.68 L579.43 444.2 L580.96 442.6 L582.48 440.92 L584 439.18 L585.52 437.4 L587.04 435.62 L588.56 433.88 L590.08 432.2 L591.6 430.6 L593.12 429.12 L594.65 427.78 L596.17 426.61 L597.69 425.62 L599.21 424.84 L600.73 424.26 L602.25 423.92 L603.77 423.8 L605.31 423.89 L606.84 424.18 L608.37 424.64 L609.91 425.29 L611.44 426.09 L612.97 427.05 L614.5 428.14 L616.04 429.35 L617.57 430.65 L619.1 432.03 L620.64 433.45 L622.17 434.9 L623.7 436.35 L625.24 437.77 L626.77 439.15 L628.3 440.45 L629.83 441.66 L631.37 442.75 L632.9 443.71 L634.43 444.51 L635.97 445.16 L637.5 445.62 L639.03 445.91 L640.57 446 L642.1 445.92 L643.63 445.67 L645.17 445.27 L646.7 444.71 L648.23 444.02 L649.76 443.19 L651.3 442.24 L652.83 441.2 L654.36 440.07 L655.9 438.88 L657.43 437.65 L658.96 436.4 L660.5 435.15 L662.03 433.92 L663.56 432.73 L665.09 431.6 L666.63 430.56 L668.16 429.61 L669.69 428.78 L671.23 428.09 L672.76 427.53 L674.29 427.13 L675.83 426.88 L677.36 426.8 L678.85 426.87 L680.35 427.1 L681.84 427.46 L683.33 427.97 L684.83 428.6 L686.32 429.35 L687.81 430.2 L689.31 431.15 L690.8 432.17 L692.3 433.25 L693.79 434.36 L695.28 435.5 L696.78 436.64 L698.27 437.75 L699.76 438.83 L701.26 439.85 L702.75 440.8 L704.25 441.65 L705.74 442.4 L707.23 443.03 L708.73 443.54 L710.22 443.9 L711.71 444.13 L713.21 444.2 L714.74 444.13 L716.27 443.93 L717.81 443.59 L719.34 443.13 L720.87 442.55 L722.41 441.86 L723.94 441.07 L725.47 440.2 L727 439.26 L728.54 438.27 L730.07 437.24 L731.6 436.2 L733.14 435.16 L734.67 434.13 L736.2 433.14 L737.74 432.2 L739.27 431.33 L740.8 430.54 L742.33 429.85 L743.87 429.27 L745.4 428.81 L746.93 428.47 L748.47 428.27 L750 428.2 L751.56 428.26 L753.13 428.45 L754.69 428.76 L756.26 429.19 L757.82 429.73 L759.39 430.37 L760.95 431.1 L762.52 431.9 L764.08 432.77 L765.64 433.68 L767.21 434.63 L768.77 435.6 L770.34 436.57 L771.9 437.52 L773.47 438.43 L775.03 439.3 L776.6 440.1 L778.16 440.83 L779.72 441.47 L781.29 442.01 L782.85 442.44 L784.42 442.75 L785.98 442.94 L787.55 443 L789.03 442.94 L790.51 442.76 L791.99 442.47 L793.47 442.08 L794.96 441.57 L796.44 440.98 L797.92 440.3 L799.4 439.55 L800.88 438.74 L802.37 437.89 L803.85 437 L805.33 436.1 L806.81 435.2 L808.29 434.31 L809.78 433.46 L811.26 432.65 L812.74 431.9 L814.22 431.22 L815.7 430.63 L817.19 430.12 L818.67 429.73 L820.15 429.44 L821.63 429.26 L823.11 429.2 L824.66 429.26 L826.21 429.42 L827.76 429.69 L829.31 430.07 L830.86 430.54 L832.41 431.1 L833.95 431.74 L835.5 432.45 L837.05 433.21 L838.6 434.02 L840.15 434.85 L841.7 435.7 L843.25 436.55 L844.8 437.38 L846.34 438.19 L847.89 438.95 L849.44 439.66 L850.99 440.3 L852.54 440.86 L854.09 441.33 L855.64 441.71 L857.19 441.98 L858.73 442.14 L860.28 442.2 L861.8 442.15 L863.32 441.99 L864.83 441.72 L866.35 441.36 L867.87 440.91 L869.39 440.37 L870.9 439.75 L872.42 439.07 L873.94 438.34 L875.46 437.57 L876.97 436.77 L878.49 435.95 L880.01 435.13 L881.53 434.33 L883.04 433.56 L884.56 432.82 L886.08 432.15 L887.59 431.53 L889.11 430.99 L890.63 430.54 L892.15 430.18 L893.66 429.91 L895.18 429.75 L896.7 429.7 L898.23 429.75 L899.76 429.9 L901.29 430.16 L902.81 430.5 L904.34 430.94 L905.87 431.46 L907.4 432.05 L908.93 432.7 L910.46 433.4 L911.99 434.15 L913.52 434.92 L915.05 435.7 L916.58 436.48 L918.11 437.25 L919.63 438 L921.16 438.7 L922.69 439.35 L924.22 439.94 L925.75 440.46 L927.28 440.9 L928.81 441.24 L930.34 441.5 L931.87 441.65 L933.4 441.7 L934.93 441.65 L936.45 441.51 L937.98 441.27 L939.51 440.94 L941.04 440.53 L942.57 440.05 L944.1 439.49 L945.63 438.88 L947.16 438.21 L948.69 437.51 L950.22 436.79 L951.75 436.05 L953.27 435.31 L954.8 434.59 L956.33 433.89 L957.86 433.22 L959.39 432.61 L960.92 432.05 L962.45 431.57 L963.98 431.16 L965.51 430.83 L967.04 430.59 L968.57 430.45 L970.09 430.4 L971.59 430.45 L973.09 430.59 L974.59 430.81 L976.08 431.13 L977.58 431.53 L979.08 432 L980.58 432.53 L982.08 433.12 L983.57 433.76 L985.07 434.44 L986.57 435.14 L988.07 435.85 L989.56 436.56 L991.06 437.26 L992.56 437.94 L994.06 438.57 L995.55 439.17 L997.05 439.7 L998.55 440.17 L1000.05 440.57 L1001.54 440.89 L1003.04 441.11 L1004.54 441.25 L1006.04 441.3 L1007.59 441.25 L1009.14 441.12 L1010.68 440.9 L1012.23 440.59 L1013.78 440.2 L1015.33 439.75 L1016.88 439.23 L1018.43 438.65 L1019.98 438.03 L1021.53 437.37 L1023.07 436.69 L1024.62 436 L1026.17 435.31 L1027.72 434.63 L1029.27 433.97 L1030.82 433.35 L1032.37 432.77 L1033.92 432.25 L1035.46 431.8 L1037.01 431.41 L1038.56 431.1 L1040.11 430.88 L1041.66 430.75 L1043.21 430.7 L1044.7 430.74 L1046.19 430.88 L1047.69 431.09 L1049.18 431.39 L1050.68 431.76 L1052.17 432.21 L1053.66 432.71 L1055.16 433.27 L1056.65 433.88 L1058.14 434.52 L1059.64 435.18 L1061.13 435.85 L1062.63 436.52 L1064.12 437.18 L1065.61 437.82 L1067.11 438.43 L1068.6 438.99 L1070.09 439.49 L1071.59 439.94 L1073.08 440.31 L1074.58 440.61 L1076.07 440.82 L1077.56 440.96 L1079.06 441 L1086.79 440.5" transform="scale(1.06 1)" fill="none" stroke="#eb3337" stroke-width="6" stroke-linejoin="round" stroke-linecap="butt"/>
<rect x="531.2" y="477.5" width="3.6" height="8.5" fill="#000"/>
<rect x="531.2" y="71" width="3.6" height="5" fill="#000"/>
<rect x="654.3" y="477.5" width="3.6" height="8.5" fill="#000"/>
<rect x="654.3" y="71" width="3.6" height="5" fill="#000"/>
<rect x="777.4" y="477.5" width="3.6" height="8.5" fill="#000"/>
<rect x="777.4" y="71" width="3.6" height="5" fill="#000"/>
<rect x="900.5" y="477.5" width="3.6" height="8.5" fill="#000"/>
<rect x="900.5" y="71" width="3.6" height="5" fill="#000"/>
<rect x="1023.6" y="477.5" width="3.6" height="8.5" fill="#000"/>
<rect x="1023.6" y="71" width="3.6" height="5" fill="#000"/>
<rect x="1146.7" y="477.5" width="3.6" height="8.5" fill="#000"/>
<rect x="1146.7" y="71" width="3.6" height="5" fill="#000"/>
<rect x="555.92" y="483" width="3.4" height="3" fill="#000"/>
<rect x="555.92" y="71" width="3.4" height="3" fill="#000"/>
<rect x="580.54" y="483" width="3.4" height="3" fill="#000"/>
<rect x="580.54" y="71" width="3.4" height="3" fill="#000"/>
<rect x="605.16" y="483" width="3.4" height="3" fill="#000"/>
<rect x="605.16" y="71" width="3.4" height="3" fill="#000"/>
<rect x="629.78" y="483" width="3.4" height="3" fill="#000"/>
<rect x="629.78" y="71" width="3.4" height="3" fill="#000"/>
<rect x="679.02" y="483" width="3.4" height="3" fill="#000"/>
<rect x="679.02" y="71" width="3.4" height="3" fill="#000"/>
<rect x="703.64" y="483" width="3.4" height="3" fill="#000"/>
<rect x="703.64" y="71" width="3.4" height="3" fill="#000"/>
<rect x="728.26" y="483" width="3.4" height="3" fill="#000"/>
<rect x="728.26" y="71" width="3.4" height="3" fill="#000"/>
<rect x="752.88" y="483" width="3.4" height="3" fill="#000"/>
<rect x="752.88" y="71" width="3.4" height="3" fill="#000"/>
<rect x="802.12" y="483" width="3.4" height="3" fill="#000"/>
<rect x="802.12" y="71" width="3.4" height="3" fill="#000"/>
<rect x="826.74" y="483" width="3.4" height="3" fill="#000"/>
<rect x="826.74" y="71" width="3.4" height="3" fill="#000"/>
<rect x="851.36" y="483" width="3.4" height="3" fill="#000"/>
<rect x="851.36" y="71" width="3.4" height="3" fill="#000"/>
<rect x="875.98" y="483" width="3.4" height="3" fill="#000"/>
<rect x="875.98" y="71" width="3.4" height="3" fill="#000"/>
<rect x="925.22" y="483" width="3.4" height="3" fill="#000"/>
<rect x="925.22" y="71" width="3.4" height="3" fill="#000"/>
<rect x="949.84" y="483" width="3.4" height="3" fill="#000"/>
<rect x="949.84" y="71" width="3.4" height="3" fill="#000"/>
<rect x="974.46" y="483" width="3.4" height="3" fill="#000"/>
<rect x="974.46" y="71" width="3.4" height="3" fill="#000"/>
<rect x="999.08" y="483" width="3.4" height="3" fill="#000"/>
<rect x="999.08" y="71" width="3.4" height="3" fill="#000"/>
<rect x="1048.32" y="483" width="3.4" height="3" fill="#000"/>
<rect x="1048.32" y="71" width="3.4" height="3" fill="#000"/>
<rect x="1072.94" y="483" width="3.4" height="3" fill="#000"/>
<rect x="1072.94" y="71" width="3.4" height="3" fill="#000"/>
<rect x="1097.56" y="483" width="3.4" height="3" fill="#000"/>
<rect x="1097.56" y="71" width="3.4" height="3" fill="#000"/>
<rect x="1122.18" y="483" width="3.4" height="3" fill="#000"/>
<rect x="1122.18" y="71" width="3.4" height="3" fill="#000"/>
<rect x="521" y="99.9" width="9" height="3.2" fill="#000"/>
<rect x="1152.5" y="99.9" width="7.5" height="3.2" fill="#000"/>
<rect x="521" y="153.7" width="9" height="3.2" fill="#000"/>
<rect x="1152.5" y="153.7" width="7.5" height="3.2" fill="#000"/>
<rect x="521" y="207.5" width="9" height="3.2" fill="#000"/>
<rect x="1152.5" y="207.5" width="7.5" height="3.2" fill="#000"/>
<rect x="521" y="261.3" width="9" height="3.2" fill="#000"/>
<rect x="1152.5" y="261.3" width="7.5" height="3.2" fill="#000"/>
<rect x="521" y="315.1" width="9" height="3.2" fill="#000"/>
<rect x="1152.5" y="315.1" width="7.5" height="3.2" fill="#000"/>
<rect x="521" y="368.9" width="9" height="3.2" fill="#000"/>
<rect x="1152.5" y="368.9" width="7.5" height="3.2" fill="#000"/>
<rect x="521" y="422.7" width="9" height="3.2" fill="#000"/>
<rect x="1152.5" y="422.7" width="7.5" height="3.2" fill="#000"/>
<rect x="521" y="476.5" width="9" height="3.2" fill="#000"/>
<rect x="1152.5" y="476.5" width="7.5" height="3.2" fill="#000"/>
<rect x="521" y="78.38" width="3.3" height="3.2" fill="#000"/>
<rect x="1157.8" y="78.38" width="2.2" height="3.2" fill="#000"/>
<rect x="521" y="89.14" width="3.3" height="3.2" fill="#000"/>
<rect x="1157.8" y="89.14" width="2.2" height="3.2" fill="#000"/>
<rect x="521" y="110.66" width="3.3" height="3.2" fill="#000"/>
<rect x="1157.8" y="110.66" width="2.2" height="3.2" fill="#000"/>
<rect x="521" y="121.42" width="3.3" height="3.2" fill="#000"/>
<rect x="1157.8" y="121.42" width="2.2" height="3.2" fill="#000"/>
<rect x="521" y="132.18" width="3.3" height="3.2" fill="#000"/>
<rect x="1157.8" y="132.18" width="2.2" height="3.2" fill="#000"/>
<rect x="521" y="142.94" width="3.3" height="3.2" fill="#000"/>
<rect x="1157.8" y="142.94" width="2.2" height="3.2" fill="#000"/>
<rect x="521" y="164.46" width="3.3" height="3.2" fill="#000"/>
<rect x="1157.8" y="164.46" width="2.2" height="3.2" fill="#000"/>
<rect x="521" y="175.22" width="3.3" height="3.2" fill="#000"/>
<rect x="1157.8" y="175.22" width="2.2" height="3.2" fill="#000"/>
<rect x="521" y="185.98" width="3.3" height="3.2" fill="#000"/>
<rect x="1157.8" y="185.98" width="2.2" height="3.2" fill="#000"/>
<rect x="521" y="196.74" width="3.3" height="3.2" fill="#000"/>
<rect x="1157.8" y="196.74" width="2.2" height="3.2" fill="#000"/>
<rect x="521" y="218.26" width="3.3" height="3.2" fill="#000"/>
<rect x="1157.8" y="218.26" width="2.2" height="3.2" fill="#000"/>
<rect x="521" y="229.02" width="3.3" height="3.2" fill="#000"/>
<rect x="1157.8" y="229.02" width="2.2" height="3.2" fill="#000"/>
<rect x="521" y="239.78" width="3.3" height="3.2" fill="#000"/>
<rect x="1157.8" y="239.78" width="2.2" height="3.2" fill="#000"/>
<rect x="521" y="250.54" width="3.3" height="3.2" fill="#000"/>
<rect x="1157.8" y="250.54" width="2.2" height="3.2" fill="#000"/>
<rect x="521" y="272.06" width="3.3" height="3.2" fill="#000"/>
<rect x="1157.8" y="272.06" width="2.2" height="3.2" fill="#000"/>
<rect x="521" y="282.82" width="3.3" height="3.2" fill="#000"/>
<rect x="1157.8" y="282.82" width="2.2" height="3.2" fill="#000"/>
<rect x="521" y="293.58" width="3.3" height="3.2" fill="#000"/>
<rect x="1157.8" y="293.58" width="2.2" height="3.2" fill="#000"/>
<rect x="521" y="304.34" width="3.3" height="3.2" fill="#000"/>
<rect x="1157.8" y="304.34" width="2.2" height="3.2" fill="#000"/>
<rect x="521" y="325.86" width="3.3" height="3.2" fill="#000"/>
<rect x="1157.8" y="325.86" width="2.2" height="3.2" fill="#000"/>
<rect x="521" y="336.62" width="3.3" height="3.2" fill="#000"/>
<rect x="1157.8" y="336.62" width="2.2" height="3.2" fill="#000"/>
<rect x="521" y="347.38" width="3.3" height="3.2" fill="#000"/>
<rect x="1157.8" y="347.38" width="2.2" height="3.2" fill="#000"/>
<rect x="521" y="358.14" width="3.3" height="3.2" fill="#000"/>
<rect x="1157.8" y="358.14" width="2.2" height="3.2" fill="#000"/>
<rect x="521" y="379.66" width="3.3" height="3.2" fill="#000"/>
<rect x="1157.8" y="379.66" width="2.2" height="3.2" fill="#000"/>
<rect x="521" y="390.42" width="3.3" height="3.2" fill="#000"/>
<rect x="1157.8" y="390.42" width="2.2" height="3.2" fill="#000"/>
<rect x="521" y="401.18" width="3.3" height="3.2" fill="#000"/>
<rect x="1157.8" y="401.18" width="2.2" height="3.2" fill="#000"/>
<rect x="521" y="411.94" width="3.3" height="3.2" fill="#000"/>
<rect x="1157.8" y="411.94" width="2.2" height="3.2" fill="#000"/>
<rect x="521" y="433.46" width="3.3" height="3.2" fill="#000"/>
<rect x="1157.8" y="433.46" width="2.2" height="3.2" fill="#000"/>
<rect x="521" y="444.22" width="3.3" height="3.2" fill="#000"/>
<rect x="1157.8" y="444.22" width="2.2" height="3.2" fill="#000"/>
<rect x="521" y="454.98" width="3.3" height="3.2" fill="#000"/>
<rect x="1157.8" y="454.98" width="2.2" height="3.2" fill="#000"/>
<rect x="521" y="465.74" width="3.3" height="3.2" fill="#000"/>
<rect x="1157.8" y="465.74" width="2.2" height="3.2" fill="#000"/>
<rect x="519" y="69" width="644" height="3" fill="#000"/>
<rect x="519" y="485" width="644" height="4" fill="#000"/>
<rect x="519" y="69" width="4" height="420" fill="#000"/>
<rect x="1159" y="69" width="4" height="420" fill="#000"/>
<rect x="1408.1" y="691" width="5" height="19" fill="#000"/>
<rect x="1408.1" y="48" width="5" height="7" fill="#000"/>
<rect x="1604.7" y="694" width="5" height="16" fill="#000"/>
<rect x="1604.7" y="48" width="5" height="7" fill="#000"/>
<rect x="1801.3" y="694" width="5" height="16" fill="#000"/>
<rect x="1801.3" y="48" width="5" height="7" fill="#000"/>
<rect x="1997.9" y="696.5" width="5" height="13.5" fill="#000"/>
<rect x="1997.9" y="48" width="5" height="7" fill="#000"/>
<rect x="2194.5" y="696.5" width="5" height="13.5" fill="#000"/>
<rect x="2194.5" y="48" width="5" height="7" fill="#000"/>
<rect x="2391.1" y="698" width="5" height="12" fill="#000"/>
<rect x="2391.1" y="48" width="5" height="7" fill="#000"/>
<rect x="1457.35" y="706" width="4.8" height="4" fill="#000"/>
<rect x="1457.35" y="48" width="4.8" height="4" fill="#000"/>
<rect x="1506.5" y="706" width="4.8" height="4" fill="#000"/>
<rect x="1506.5" y="48" width="4.8" height="4" fill="#000"/>
<rect x="1555.65" y="706" width="4.8" height="4" fill="#000"/>
<rect x="1555.65" y="48" width="4.8" height="4" fill="#000"/>
<rect x="1653.95" y="706" width="4.8" height="4" fill="#000"/>
<rect x="1653.95" y="48" width="4.8" height="4" fill="#000"/>
<rect x="1703.1" y="706" width="4.8" height="4" fill="#000"/>
<rect x="1703.1" y="48" width="4.8" height="4" fill="#000"/>
<rect x="1752.25" y="706" width="4.8" height="4" fill="#000"/>
<rect x="1752.25" y="48" width="4.8" height="4" fill="#000"/>
<rect x="1850.55" y="706" width="4.8" height="4" fill="#000"/>
<rect x="1850.55" y="48" width="4.8" height="4" fill="#000"/>
<rect x="1899.7" y="706" width="4.8" height="4" fill="#000"/>
<rect x="1899.7" y="48" width="4.8" height="4" fill="#000"/>
<rect x="1948.85" y="706" width="4.8" height="4" fill="#000"/>
<rect x="1948.85" y="48" width="4.8" height="4" fill="#000"/>
<rect x="2047.15" y="706" width="4.8" height="4" fill="#000"/>
<rect x="2047.15" y="48" width="4.8" height="4" fill="#000"/>
<rect x="2096.3" y="706" width="4.8" height="4" fill="#000"/>
<rect x="2096.3" y="48" width="4.8" height="4" fill="#000"/>
<rect x="2145.45" y="706" width="4.8" height="4" fill="#000"/>
<rect x="2145.45" y="48" width="4.8" height="4" fill="#000"/>
<rect x="2243.75" y="706" width="4.8" height="4" fill="#000"/>
<rect x="2243.75" y="48" width="4.8" height="4" fill="#000"/>
<rect x="2292.9" y="706" width="4.8" height="4" fill="#000"/>
<rect x="2292.9" y="48" width="4.8" height="4" fill="#000"/>
<rect x="2342.05" y="706" width="4.8" height="4" fill="#000"/>
<rect x="2342.05" y="48" width="4.8" height="4" fill="#000"/>
<rect x="1392" y="62" width="13" height="4.8" fill="#000"/>
<rect x="2402" y="62" width="10" height="4.8" fill="#000"/>
<rect x="1392" y="154.3" width="14" height="4.8" fill="#000"/>
<rect x="2402" y="154.3" width="10" height="4.8" fill="#000"/>
<rect x="1392" y="246.6" width="18" height="4.8" fill="#000"/>
<rect x="2402" y="246.6" width="10" height="4.8" fill="#000"/>
<rect x="1392" y="338.9" width="19.5" height="4.8" fill="#000"/>
<rect x="2402" y="338.9" width="10" height="4.8" fill="#000"/>
<rect x="1392" y="431.2" width="19.5" height="4.8" fill="#000"/>
<rect x="2402" y="431.2" width="10" height="4.8" fill="#000"/>
<rect x="1392" y="523.5" width="16" height="4.8" fill="#000"/>
<rect x="2402" y="523.5" width="10" height="4.8" fill="#000"/>
<rect x="1392" y="615.8" width="16" height="4.8" fill="#000"/>
<rect x="1392" y="80.46" width="4" height="4.8" fill="#000"/>
<rect x="2408" y="80.46" width="4" height="4.8" fill="#000"/>
<rect x="1392" y="98.92" width="4" height="4.8" fill="#000"/>
<rect x="2408" y="98.92" width="4" height="4.8" fill="#000"/>
<rect x="1392" y="117.38" width="4" height="4.8" fill="#000"/>
<rect x="2408" y="117.38" width="4" height="4.8" fill="#000"/>
<rect x="1392" y="135.84" width="4" height="4.8" fill="#000"/>
<rect x="2408" y="135.84" width="4" height="4.8" fill="#000"/>
<rect x="1392" y="172.76" width="4" height="4.8" fill="#000"/>
<rect x="2408" y="172.76" width="4" height="4.8" fill="#000"/>
<rect x="1392" y="191.22" width="4" height="4.8" fill="#000"/>
<rect x="2408" y="191.22" width="4" height="4.8" fill="#000"/>
<rect x="1392" y="209.68" width="4" height="4.8" fill="#000"/>
<rect x="2408" y="209.68" width="4" height="4.8" fill="#000"/>
<rect x="1392" y="228.14" width="4" height="4.8" fill="#000"/>
<rect x="2408" y="228.14" width="4" height="4.8" fill="#000"/>
<rect x="1392" y="265.06" width="4" height="4.8" fill="#000"/>
<rect x="2408" y="265.06" width="4" height="4.8" fill="#000"/>
<rect x="1392" y="283.52" width="4" height="4.8" fill="#000"/>
<rect x="2408" y="283.52" width="4" height="4.8" fill="#000"/>
<rect x="1392" y="301.98" width="4" height="4.8" fill="#000"/>
<rect x="2408" y="301.98" width="4" height="4.8" fill="#000"/>
<rect x="1392" y="320.44" width="4" height="4.8" fill="#000"/>
<rect x="2408" y="320.44" width="4" height="4.8" fill="#000"/>
<rect x="1392" y="357.36" width="4" height="4.8" fill="#000"/>
<rect x="2408" y="357.36" width="4" height="4.8" fill="#000"/>
<rect x="1392" y="375.82" width="4" height="4.8" fill="#000"/>
<rect x="2408" y="375.82" width="4" height="4.8" fill="#000"/>
<rect x="1392" y="394.28" width="4" height="4.8" fill="#000"/>
<rect x="2408" y="394.28" width="4" height="4.8" fill="#000"/>
<rect x="1392" y="412.74" width="4" height="4.8" fill="#000"/>
<rect x="2408" y="412.74" width="4" height="4.8" fill="#000"/>
<rect x="1392" y="449.66" width="4" height="4.8" fill="#000"/>
<rect x="2408" y="449.66" width="4" height="4.8" fill="#000"/>
<rect x="1392" y="468.12" width="4" height="4.8" fill="#000"/>
<rect x="2408" y="468.12" width="4" height="4.8" fill="#000"/>
<rect x="1392" y="486.58" width="4" height="4.8" fill="#000"/>
<rect x="2408" y="486.58" width="4" height="4.8" fill="#000"/>
<rect x="1392" y="505.04" width="4" height="4.8" fill="#000"/>
<rect x="2408" y="505.04" width="4" height="4.8" fill="#000"/>
<rect x="1392" y="541.96" width="4" height="4.8" fill="#000"/>
<rect x="2408" y="541.96" width="4" height="4.8" fill="#000"/>
<rect x="1392" y="560.42" width="4" height="4.8" fill="#000"/>
<rect x="2408" y="560.42" width="4" height="4.8" fill="#000"/>
<rect x="1392" y="578.88" width="4" height="4.8" fill="#000"/>
<rect x="2408" y="578.88" width="4" height="4.8" fill="#000"/>
<rect x="1392" y="597.34" width="4" height="4.8" fill="#000"/>
<rect x="2408" y="597.34" width="4" height="4.8" fill="#000"/>
<rect x="1392" y="634.26" width="4" height="4.8" fill="#000"/>
<rect x="2408" y="634.26" width="4" height="4.8" fill="#000"/>
<rect x="1392" y="652.72" width="4" height="4.8" fill="#000"/>
<rect x="2408" y="652.72" width="4" height="4.8" fill="#000"/>
<rect x="1392" y="671.18" width="4" height="4.8" fill="#000"/>
<rect x="2408" y="671.18" width="4" height="4.8" fill="#000"/>
<rect x="1392" y="689.64" width="4" height="4.8" fill="#000"/>
<rect x="2408" y="689.64" width="4" height="4.8" fill="#000"/>
<rect x="1388" y="44" width="1028" height="5" fill="#000"/>
<rect x="1388" y="709" width="1028" height="5" fill="#000"/>
<rect x="1388" y="44" width="5" height="670" fill="#000"/>
<rect x="2411" y="44" width="5" height="670" fill="#000"/>
<path d="M1326.42 64.8 L1415.09 64.8 L1509.43 64.8 L1511.95 64.81 L1514.47 64.82 L1516.99 64.84 L1519.51 64.85 L1522.03 64.86 L1524.55 64.87 L1527.07 64.88 L1529.59 64.9 L1532.11 64.91 L1534.63 64.92 L1537.15 64.93 L1539.67 64.94 L1542.19 64.95 L1544.71 64.96 L1547.23 64.97 L1549.75 64.98 L1552.27 64.99 L1554.79 65 L1557.31 65.01 L1559.83 65.03 L1562.35 65.04 L1564.87 65.05 L1567.39 65.06 L1569.91 65.07 L1572.43 65.08 L1574.95 65.09 L1577.47 65.1 L1579.99 65.11 L1582.51 65.12 L1585.03 65.13 L1587.55 65.14 L1590.08 65.16 L1592.6 65.17 L1595.12 65.18 L1597.64 65.19 L1600.16 65.2 L1602.68 65.21 L1605.2 65.23 L1607.72 65.24 L1610.24 65.25 L1612.77 65.26 L1615.29 65.28 L1617.81 65.29 L1620.33 65.3 L1622.85 65.32 L1625.37 65.33 L1627.9 65.34 L1630.42 65.36 L1632.94 65.37 L1635.46 65.39 L1637.98 65.4 L1640.5 65.42 L1643.03 65.43 L1645.55 65.45 L1648.07 65.46 L1650.59 65.48 L1653.11 65.5 L1655.64 65.51 L1658.16 65.53 L1660.68 65.55 L1663.2 65.57 L1665.72 65.59 L1668.25 65.61 L1670.77 65.63 L1673.29 65.64 L1675.81 65.67 L1678.33 65.69 L1680.86 65.71 L1683.38 65.73 L1685.9 65.75 L1688.42 65.77 L1690.94 65.8 L1693.47 65.82 L1695.99 65.84 L1698.51 65.87 L1701.03 65.89 L1703.56 65.92 L1706.08 65.94 L1708.6 65.97 L1711.12 66 L1713.65 66.03 L1716.17 66.05 L1718.69 66.08 L1721.21 66.11 L1723.73 66.14 L1726.26 66.17 L1728.78 66.2 L1731.3 66.24 L1733.82 66.27 L1736.35 66.3 L1738.87 66.34 L1741.39 66.37 L1743.91 66.4 L1746.43 66.44 L1748.96 66.48 L1751.48 66.51 L1754 66.55 L1756.52 66.59 L1759.05 66.63 L1761.57 66.67 L1764.09 66.71 L1766.61 66.75 L1769.13 66.8 L1771.66 66.84 L1774.18 66.88 L1776.7 66.93 L1779.22 66.97 L1781.74 67.02 L1784.27 67.07 L1786.79 67.11 L1789.31 67.16 L1791.83 67.21 L1794.35 67.26 L1796.88 67.31 L1799.4 67.37 L1801.92 67.42 L1804.44 67.47 L1806.96 67.53 L1809.48 67.58 L1812.01 67.64 L1814.53 67.7 L1817.05 67.76 L1819.57 67.82 L1822.09 67.88 L1824.61 67.94 L1827.13 68 L1829.66 68.07 L1832.18 68.13 L1834.7 68.2 L1837.22 68.26 L1839.74 68.33 L1842.26 68.4 L1844.78 68.47 L1847.3 68.54 L1849.83 68.61 L1852.35 68.68 L1854.87 68.76 L1857.39 68.83 L1859.91 68.91 L1862.43 68.99 L1864.95 69.06 L1867.47 69.14 L1869.99 69.22 L1872.51 69.31 L1875.03 69.39 L1877.55 69.47 L1880.07 69.56 L1882.59 69.65 L1885.11 69.73 L1887.63 69.82 L1890.15 69.91 L1892.67 70 L1895.19 70.1 L1897.71 70.19 L1900.23 70.28 L1902.75 70.38 L1905.27 70.48 L1907.79 70.58 L1910.31 70.68 L1912.83 70.78 L1915.35 70.88 L1917.87 70.99 L1920.39 71.09 L1922.91 71.2 L1925.43 71.31 L1927.95 71.42 L1930.47 71.53 L1932.99 71.64 L1935.5 71.75 L1938.02 71.87 L1940.54 71.98 L1943.06 72.1 L1945.58 72.22 L1948.1 72.34 L1950.61 72.46 L1953.13 72.59 L1955.65 72.71 L1958.17 72.84 L1960.69 72.97 L1963.2 73.1 L1965.72 73.23 L1968.24 73.36 L1970.76 73.49 L1973.28 73.63 L1975.79 73.77 L1978.31 73.9 L1980.83 74.04 L1983.34 74.19 L1985.86 74.33 L1988.38 74.47 L1990.89 74.62 L1993.41 74.77 L1995.93 74.92 L1998.44 75.07 L2000.96 75.22 L2003.48 75.38 L2005.99 75.53 L2008.51 75.69 L2011.02 75.85 L2013.54 76.01 L2016.06 76.17 L2018.57 76.34 L2021.09 76.5 L2023.6 76.67 L2026.12 76.84 L2028.63 77.01 L2031.15 77.19 L2033.66 77.36 L2036.18 77.54 L2038.69 77.72 L2041.21 77.9 L2043.72 78.08 L2046.23 78.26 L2048.75 78.45 L2051.26 78.63 L2053.78 78.82 L2056.29 79.01 L2058.8 79.21 L2061.32 79.4 L2063.83 79.6 L2066.34 79.8 L2068.86 80 L2071.37 80.2 L2073.88 80.4 L2076.4 80.61 L2078.91 80.82 L2081.42 81.03 L2083.93 81.24 L2086.44 81.45 L2088.96 81.67 L2091.47 81.88 L2093.98 82.1 L2096.49 82.33 L2099 82.55 L2101.51 82.78 L2104.03 83 L2106.54 83.23 L2109.05 83.46 L2111.56 83.7 L2114.07 83.93 L2116.58 84.17 L2119.09 84.41 L2121.6 84.65 L2124.11 84.9 L2126.62 85.14 L2129.13 85.39 L2131.64 85.64 L2134.15 85.89 L2136.66 86.15 L2139.16 86.4 L2141.67 86.66 L2144.18 86.92 L2146.69 87.19 L2149.2 87.45 L2151.71 87.72 L2154.21 87.99 L2156.72 88.26 L2159.23 88.54 L2161.74 88.81 L2164.25 89.09 L2166.75 89.37 L2169.26 89.66 L2171.77 89.94 L2174.27 90.23 L2176.78 90.52 L2179.29 90.81 L2181.79 91.11 L2184.3 91.4 L2186.8 91.7 L2189.31 92 L2191.81 92.31 L2194.32 92.61 L2196.82 92.92 L2199.33 93.23 L2201.83 93.55 L2204.34 93.86 L2206.84 94.18 L2209.35 94.5 L2211.85 94.82 L2214.35 95.15 L2216.86 95.47 L2219.36 95.81 L2221.86 96.14 L2224.37 96.47 L2226.87 96.81 L2229.37 97.15 L2231.87 97.49 L2234.38 97.84 L2236.88 98.19 L2239.38 98.54 L2241.88 98.89 L2244.38 99.24 L2246.88 99.6 L2249.39 99.96 L2251.89 100.32 L2254.39 100.69 L2256.89 101.06 L2259.39 101.43 L2261.89 101.8" transform="scale(1.06 1)" fill="none" stroke="#1469eb" stroke-width="8" stroke-linejoin="round" stroke-linecap="butt"/>
<path d="M1326.42 64.8 L1396.23 64.8 L1399.26 64.8 L1402.3 64.8 L1405.33 64.8 L1408.36 64.8 L1411.39 64.8 L1414.41 64.8 L1417.44 64.8 L1420.46 64.8 L1423.48 64.8 L1426.5 64.8 L1429.51 64.85 L1432.52 64.96 L1435.54 65.09 L1438.55 65.24 L1441.55 65.41 L1444.56 65.59 L1447.56 65.79 L1450.57 66 L1453.57 66.23 L1456.57 66.47 L1459.56 66.73 L1462.56 67.01 L1465.55 67.29 L1468.55 67.59 L1471.54 67.91 L1474.53 68.24 L1477.52 68.58 L1480.5 68.93 L1483.49 69.29 L1486.47 69.67 L1489.46 70.06 L1492.44 70.46 L1495.42 70.87 L1498.4 71.29 L1501.38 71.73 L1504.35 72.17 L1507.33 72.62 L1510.31 73.08 L1513.28 73.56 L1516.25 74.04 L1519.22 74.53 L1522.2 75.02 L1525.17 75.53 L1528.14 76.04 L1531.1 76.56 L1534.07 77.09 L1537.04 77.63 L1540.01 78.17 L1542.97 78.72 L1545.94 79.27 L1548.9 79.83 L1551.86 80.4 L1554.83 80.97 L1557.79 81.54 L1560.75 82.12 L1563.72 82.7 L1566.68 83.29 L1569.64 83.88 L1572.6 84.48 L1575.56 85.07 L1578.52 85.67 L1581.48 86.27 L1584.44 86.88 L1587.4 87.48 L1590.36 88.09 L1593.32 88.7 L1596.28 89.31 L1599.24 89.92 L1602.2 90.53 L1605.16 91.14 L1608.12 91.75 L1611.08 92.36 L1614.04 92.97 L1617 93.58 L1619.96 94.19 L1622.92 94.8 L1625.88 95.41 L1628.84 96.02 L1631.8 96.63 L1634.76 97.24 L1637.72 97.85 L1640.68 98.46 L1643.64 99.07 L1646.6 99.68 L1649.56 100.3 L1652.52 100.91 L1655.48 101.52 L1658.44 102.13 L1661.4 102.75 L1664.36 103.36 L1667.32 103.98 L1670.28 104.59 L1673.24 105.21 L1676.2 105.82 L1679.16 106.44 L1682.12 107.06 L1685.08 107.68 L1688.03 108.3 L1690.99 108.92 L1693.95 109.54 L1696.91 110.16 L1699.87 110.78 L1702.83 111.4 L1705.78 112.03 L1708.74 112.65 L1711.7 113.28 L1714.66 113.91 L1717.62 114.54 L1720.57 115.17 L1723.53 115.8 L1726.49 116.43 L1729.44 117.06 L1732.4 117.69 L1735.35 118.33 L1738.31 118.97 L1741.27 119.6 L1744.22 120.24 L1747.17 120.88 L1750.13 121.53 L1753.08 122.17 L1756.04 122.81 L1758.99 123.46 L1761.94 124.11 L1764.9 124.76 L1767.85 125.41 L1770.8 126.06 L1773.76 126.72 L1776.71 127.37 L1779.66 128.03 L1782.61 128.69 L1785.56 129.35 L1788.51 130.01 L1791.46 130.68 L1794.41 131.34 L1797.36 132.01 L1800.31 132.68 L1803.26 133.35 L1806.2 134.03 L1809.15 134.71 L1812.1 135.38 L1815.05 136.06 L1817.99 136.75 L1820.94 137.43 L1823.88 138.12 L1826.83 138.81 L1829.77 139.5 L1832.72 140.19 L1835.66 140.89 L1838.6 141.59 L1841.54 142.29 L1844.49 142.99 L1847.43 143.7 L1850.37 144.4 L1853.31 145.11 L1856.25 145.83 L1859.19 146.54 L1862.13 147.26 L1865.06 147.98 L1868 148.7 L1870.94 149.43 L1873.88 150.16 L1876.81 150.89 L1879.75 151.62 L1882.68 152.36 L1885.62 153.1 L1888.55 153.84 L1891.48 154.59 L1894.41 155.34 L1897.34 156.09 L1900.27 156.85 L1903.2 157.61 L1906.13 158.37 L1909.06 159.14 L1911.98 159.91 L1914.91 160.68 L1917.83 161.46 L1920.76 162.24 L1923.68 163.03 L1926.6 163.82 L1929.52 164.61 L1932.44 165.41 L1935.36 166.21 L1938.27 167.02 L1941.19 167.83 L1944.1 168.64 L1947.01 169.46 L1949.93 170.29 L1952.83 171.12 L1955.74 171.95 L1958.65 172.79 L1961.56 173.64 L1964.46 174.48 L1967.36 175.34 L1970.26 176.2 L1973.16 177.06 L1976.06 177.93 L1978.96 178.81 L1981.85 179.69 L1984.74 180.57 L1987.63 181.46 L1990.52 182.36 L1993.41 183.26 L1996.3 184.17 L1999.18 185.09 L2002.06 186.01 L2004.94 186.94 L2007.82 187.87 L2010.7 188.81 L2013.57 189.75 L2016.44 190.7 L2019.31 191.66 L2022.18 192.63 L2025.05 193.6 L2027.91 194.58 L2030.77 195.56 L2033.63 196.55 L2036.49 197.55 L2039.34 198.56 L2042.2 199.57 L2045.05 200.59 L2047.89 201.61 L2050.74 202.65 L2053.58 203.69 L2056.42 204.74 L2059.26 205.79 L2062.1 206.85 L2064.93 207.93 L2067.76 209 L2070.59 210.09 L2073.41 211.18 L2076.24 212.29 L2079.06 213.4 L2081.87 214.52 L2084.69 215.64 L2087.5 216.78 L2090.31 217.92 L2093.11 219.07 L2095.92 220.23 L2098.72 221.4 L2101.52 222.57 L2104.31 223.76 L2107.1 224.95 L2109.89 226.16 L2112.68 227.37 L2115.46 228.59 L2118.24 229.82 L2121.02 231.06 L2123.79 232.3 L2126.56 233.56 L2129.33 234.82 L2132.09 236.09 L2134.85 237.37 L2137.61 238.66 L2140.37 239.96 L2143.12 241.26 L2145.87 242.57 L2148.62 243.89 L2151.36 245.21 L2154.11 246.55 L2156.85 247.89 L2159.58 249.24 L2162.32 250.59 L2165.05 251.95 L2167.78 253.32 L2170.5 254.69 L2173.23 256.07 L2175.95 257.46 L2178.67 258.85 L2181.38 260.25 L2184.09 261.66 L2186.81 263.07 L2189.51 264.49 L2192.22 265.91 L2194.92 267.34 L2197.62 268.77 L2200.32 270.21 L2203.02 271.66 L2205.71 273.11 L2208.41 274.56 L2211.1 276.02 L2213.78 277.48 L2216.47 278.95 L2219.15 280.42 L2221.83 281.9 L2224.51 283.38 L2227.19 284.87 L2229.86 286.36 L2232.53 287.85 L2235.2 289.35 L2237.87 290.85 L2240.54 292.35 L2243.2 293.86 L2245.86 295.37 L2248.52 296.89 L2251.18 298.41 L2253.83 299.93 L2256.49 301.45 L2259.14 302.98 L2261.79 304.5" transform="scale(1.06 1)" fill="none" stroke="#ee9e16" stroke-width="8" stroke-linejoin="round" stroke-linecap="butt"/>
<path d="M1326.42 64.8 L1386.79 64.8 L1390.12 64.8 L1393.43 64.8 L1396.72 64.8 L1400 64.8 L1403.27 64.8 L1406.52 64.8 L1409.76 64.8 L1412.98 64.8 L1416.18 64.8 L1419.38 65.01 L1422.56 65.36 L1425.72 65.75 L1428.87 66.21 L1432.01 66.71 L1435.14 67.26 L1438.25 67.87 L1441.35 68.52 L1444.44 69.22 L1447.51 69.97 L1450.58 70.76 L1453.63 71.59 L1456.67 72.47 L1459.69 73.39 L1462.71 74.36 L1465.71 75.36 L1468.71 76.4 L1471.69 77.47 L1474.66 78.59 L1477.62 79.74 L1480.57 80.92 L1483.51 82.14 L1486.44 83.39 L1489.37 84.67 L1492.28 85.97 L1495.18 87.31 L1498.07 88.68 L1500.96 90.07 L1503.83 91.49 L1506.7 92.93 L1509.55 94.39 L1512.4 95.88 L1515.24 97.38 L1518.08 98.91 L1520.91 100.45 L1523.73 102.02 L1526.54 103.59 L1529.35 105.19 L1532.15 106.8 L1534.95 108.42 L1537.74 110.05 L1540.53 111.69 L1543.32 113.35 L1546.1 115.01 L1548.88 116.68 L1551.66 118.35 L1554.44 120.04 L1557.21 121.72 L1559.98 123.41 L1562.75 125.1 L1565.53 126.79 L1568.3 128.48 L1571.07 130.17 L1573.84 131.86 L1576.62 133.54 L1579.4 135.22 L1582.18 136.9 L1584.96 138.57 L1587.74 140.23 L1590.52 141.89 L1593.31 143.54 L1596.1 145.18 L1598.89 146.83 L1601.69 148.46 L1604.48 150.09 L1607.28 151.72 L1610.08 153.34 L1612.88 154.95 L1615.69 156.56 L1618.49 158.16 L1621.3 159.76 L1624.11 161.35 L1626.93 162.94 L1629.74 164.52 L1632.56 166.1 L1635.38 167.67 L1638.2 169.23 L1641.03 170.79 L1643.85 172.35 L1646.68 173.89 L1649.51 175.44 L1652.34 176.98 L1655.18 178.51 L1658.02 180.04 L1660.86 181.56 L1663.7 183.07 L1666.54 184.58 L1669.39 186.09 L1672.24 187.59 L1675.09 189.08 L1677.94 190.57 L1680.79 192.05 L1683.65 193.53 L1686.51 195 L1689.37 196.47 L1692.24 197.93 L1695.1 199.39 L1697.97 200.84 L1700.84 202.28 L1703.72 203.72 L1706.59 205.15 L1709.47 206.58 L1712.35 208 L1715.23 209.42 L1718.12 210.83 L1721.01 212.24 L1723.89 213.64 L1726.79 215.04 L1729.68 216.43 L1732.58 217.81 L1735.48 219.19 L1738.38 220.56 L1741.28 221.93 L1744.19 223.29 L1747.09 224.65 L1750 226 L1752.92 227.34 L1755.83 228.68 L1758.75 230.02 L1761.67 231.35 L1764.59 232.67 L1767.52 233.99 L1770.44 235.3 L1773.37 236.61 L1776.3 237.91 L1779.24 239.2 L1782.17 240.49 L1785.11 241.78 L1788.06 243.06 L1791 244.33 L1793.94 245.6 L1796.89 246.86 L1799.84 248.12 L1802.8 249.37 L1805.75 250.62 L1808.71 251.86 L1811.67 253.1 L1814.63 254.34 L1817.59 255.57 L1820.55 256.79 L1823.52 258.01 L1826.49 259.23 L1829.46 260.44 L1832.43 261.65 L1835.4 262.86 L1838.38 264.06 L1841.36 265.25 L1844.33 266.45 L1847.31 267.64 L1850.3 268.83 L1853.28 270.01 L1856.26 271.19 L1859.25 272.37 L1862.23 273.54 L1865.22 274.72 L1868.21 275.89 L1871.2 277.05 L1874.19 278.22 L1877.18 279.38 L1880.18 280.54 L1883.17 281.69 L1886.17 282.85 L1889.16 284 L1892.16 285.15 L1895.16 286.3 L1898.16 287.45 L1901.16 288.6 L1904.16 289.74 L1907.16 290.88 L1910.16 292.03 L1913.16 293.17 L1916.16 294.3 L1919.17 295.44 L1922.17 296.58 L1925.17 297.72 L1928.18 298.85 L1931.18 299.99 L1934.19 301.12 L1937.19 302.26 L1940.19 303.39 L1943.2 304.53 L1946.2 305.66 L1949.21 306.79 L1952.21 307.93 L1955.22 309.06 L1958.22 310.2 L1961.23 311.33 L1964.23 312.47 L1967.24 313.6 L1970.24 314.74 L1973.25 315.88 L1976.25 317.01 L1979.25 318.15 L1982.25 319.29 L1985.26 320.44 L1988.26 321.58 L1991.26 322.72 L1994.26 323.87 L1997.26 325.02 L2000.26 326.17 L2003.26 327.32 L2006.25 328.47 L2009.25 329.63 L2012.25 330.78 L2015.24 331.94 L2018.23 333.11 L2021.23 334.27 L2024.22 335.44 L2027.21 336.61 L2030.2 337.78 L2033.19 338.95 L2036.17 340.13 L2039.16 341.31 L2042.14 342.5 L2045.13 343.69 L2048.11 344.88 L2051.09 346.07 L2054.07 347.27 L2057.04 348.47 L2060.02 349.68 L2062.99 350.89 L2065.97 352.1 L2068.94 353.32 L2071.9 354.54 L2074.87 355.77 L2077.84 357 L2080.8 358.23 L2083.76 359.47 L2086.72 360.71 L2089.68 361.96 L2092.63 363.22 L2095.59 364.48 L2098.54 365.74 L2101.49 367.01 L2104.43 368.28 L2107.38 369.56 L2110.32 370.85 L2113.26 372.14 L2116.2 373.44 L2119.13 374.74 L2122.06 376.05 L2124.99 377.36 L2127.92 378.68 L2130.85 380.01 L2133.77 381.34 L2136.69 382.68 L2139.6 384.03 L2142.52 385.38 L2145.43 386.74 L2148.34 388.1 L2151.24 389.48 L2154.14 390.86 L2157.04 392.24 L2159.94 393.64 L2162.83 395.04 L2165.72 396.45 L2168.61 397.86 L2171.49 399.29 L2174.37 400.72 L2177.25 402.16 L2180.12 403.61 L2182.99 405.06 L2185.86 406.53 L2188.72 408 L2191.58 409.48 L2194.44 410.97 L2197.29 412.47 L2200.14 413.97 L2202.98 415.49 L2205.82 417.01 L2208.66 418.54 L2211.49 420.09 L2214.32 421.64 L2217.15 423.2 L2219.97 424.77 L2222.79 426.35 L2225.6 427.94 L2228.41 429.53 L2231.22 431.14 L2234.02 432.76 L2236.82 434.39 L2239.61 436.03 L2242.4 437.67 L2245.18 439.33 L2247.96 441 L2250.74 442.68 L2253.51 444.37 L2256.27 446.07 L2259.03 447.78 L2261.79 449.5" transform="scale(1.06 1)" fill="none" stroke="#9ecd22" stroke-width="8" stroke-linejoin="round" stroke-linecap="butt"/>
<path d="M1326.42 64.8 L1367.92 64.8 L1371.5 64.8 L1375.05 64.8 L1378.58 64.8 L1382.07 64.8 L1385.54 64.8 L1388.98 64.84 L1392.4 65.13 L1395.78 65.5 L1399.15 65.95 L1402.48 66.47 L1405.79 67.06 L1409.08 67.73 L1412.34 68.47 L1415.57 69.27 L1418.78 70.15 L1421.97 71.09 L1425.13 72.09 L1428.27 73.16 L1431.39 74.29 L1434.48 75.48 L1437.55 76.73 L1440.6 78.04 L1443.63 79.4 L1446.63 80.82 L1449.62 82.29 L1452.58 83.81 L1455.52 85.38 L1458.45 87 L1461.35 88.67 L1464.23 90.39 L1467.09 92.15 L1469.93 93.95 L1472.76 95.79 L1475.56 97.67 L1478.35 99.6 L1481.12 101.55 L1483.87 103.55 L1486.6 105.58 L1489.32 107.64 L1492.02 109.73 L1494.71 111.85 L1497.37 114 L1500.02 116.18 L1502.66 118.38 L1505.28 120.61 L1507.89 122.86 L1510.48 125.13 L1513.05 127.42 L1515.62 129.73 L1518.17 132.06 L1520.71 134.4 L1523.24 136.75 L1525.77 139.12 L1528.28 141.5 L1530.79 143.89 L1533.29 146.29 L1535.79 148.69 L1538.28 151.1 L1540.77 153.51 L1543.26 155.93 L1545.74 158.35 L1548.23 160.77 L1550.72 163.18 L1553.21 165.6 L1555.71 168.01 L1558.21 170.41 L1560.71 172.81 L1563.22 175.2 L1565.74 177.58 L1568.26 179.95 L1570.8 182.3 L1573.34 184.65 L1575.89 186.98 L1578.45 189.31 L1581.02 191.62 L1583.59 193.92 L1586.17 196.21 L1588.76 198.49 L1591.36 200.76 L1593.97 203.01 L1596.58 205.26 L1599.2 207.49 L1601.83 209.71 L1604.47 211.92 L1607.11 214.12 L1609.77 216.3 L1612.43 218.47 L1615.09 220.64 L1617.77 222.79 L1620.45 224.92 L1623.15 227.05 L1625.84 229.16 L1628.55 231.26 L1631.27 233.35 L1633.99 235.43 L1636.72 237.49 L1639.45 239.54 L1642.2 241.58 L1644.95 243.61 L1647.71 245.62 L1650.47 247.63 L1653.25 249.61 L1656.03 251.59 L1658.82 253.55 L1661.61 255.5 L1664.42 257.44 L1667.23 259.36 L1670.05 261.27 L1672.87 263.17 L1675.7 265.06 L1678.54 266.93 L1681.39 268.79 L1684.24 270.63 L1687.11 272.46 L1689.97 274.28 L1692.85 276.08 L1695.73 277.87 L1698.62 279.65 L1701.52 281.41 L1704.42 283.16 L1707.33 284.9 L1710.25 286.62 L1713.17 288.33 L1716.11 290.02 L1719.04 291.7 L1721.99 293.37 L1724.94 295.02 L1727.9 296.66 L1730.86 298.28 L1733.84 299.89 L1736.82 301.49 L1739.8 303.07 L1742.79 304.63 L1745.79 306.18 L1748.8 307.72 L1751.81 309.24 L1754.83 310.75 L1757.86 312.24 L1760.89 313.72 L1763.93 315.18 L1766.97 316.63 L1770.03 318.06 L1773.09 319.48 L1776.15 320.88 L1779.22 322.27 L1782.3 323.64 L1785.38 325 L1788.48 326.34 L1791.57 327.66 L1794.68 328.97 L1797.79 330.27 L1800.9 331.55 L1804.02 332.82 L1807.15 334.07 L1810.28 335.31 L1813.42 336.53 L1816.57 337.74 L1819.72 338.94 L1822.87 340.13 L1826.03 341.3 L1829.19 342.47 L1832.36 343.62 L1835.53 344.76 L1838.71 345.89 L1841.89 347.01 L1845.08 348.12 L1848.27 349.22 L1851.46 350.31 L1854.66 351.39 L1857.86 352.46 L1861.07 353.53 L1864.27 354.59 L1867.48 355.63 L1870.7 356.68 L1873.91 357.71 L1877.13 358.74 L1880.35 359.77 L1883.58 360.78 L1886.8 361.8 L1890.03 362.8 L1893.26 363.8 L1896.49 364.8 L1899.73 365.8 L1902.96 366.79 L1906.2 367.77 L1909.44 368.76 L1912.68 369.74 L1915.92 370.72 L1919.16 371.69 L1922.4 372.67 L1925.64 373.64 L1928.88 374.62 L1932.12 375.59 L1935.37 376.56 L1938.61 377.53 L1941.85 378.51 L1945.09 379.48 L1948.34 380.46 L1951.58 381.43 L1954.82 382.41 L1958.06 383.39 L1961.29 384.38 L1964.53 385.36 L1967.77 386.35 L1971 387.35 L1974.23 388.34 L1977.47 389.34 L1980.69 390.35 L1983.92 391.36 L1987.15 392.38 L1990.37 393.4 L1993.59 394.43 L1996.81 395.46 L2000.02 396.51 L2003.23 397.55 L2006.44 398.61 L2009.65 399.67 L2012.85 400.75 L2016.05 401.83 L2019.25 402.92 L2022.44 404.02 L2025.63 405.12 L2028.81 406.24 L2031.99 407.37 L2035.16 408.51 L2038.34 409.66 L2041.5 410.82 L2044.66 411.99 L2047.82 413.18 L2050.97 414.37 L2054.12 415.58 L2057.27 416.79 L2060.41 418.02 L2063.54 419.25 L2066.68 420.5 L2069.8 421.75 L2072.93 423.02 L2076.05 424.3 L2079.17 425.58 L2082.28 426.87 L2085.39 428.18 L2088.49 429.49 L2091.6 430.81 L2094.7 432.14 L2097.79 433.48 L2100.88 434.83 L2103.97 436.18 L2107.06 437.55 L2110.14 438.92 L2113.22 440.3 L2116.3 441.69 L2119.37 443.08 L2122.44 444.48 L2125.51 445.89 L2128.58 447.31 L2131.64 448.73 L2134.7 450.16 L2137.76 451.6 L2140.81 453.05 L2143.86 454.5 L2146.91 455.95 L2149.96 457.42 L2153.01 458.88 L2156.05 460.36 L2159.1 461.84 L2162.14 463.33 L2165.17 464.82 L2168.21 466.31 L2171.25 467.81 L2174.28 469.32 L2177.31 470.83 L2180.34 472.35 L2183.37 473.87 L2186.39 475.39 L2189.42 476.92 L2192.44 478.46 L2195.47 479.99 L2198.49 481.53 L2201.51 483.08 L2204.53 484.63 L2207.55 486.18 L2210.56 487.73 L2213.58 489.29 L2216.6 490.85 L2219.61 492.41 L2222.63 493.98 L2225.64 495.55 L2228.66 497.12 L2231.67 498.69 L2234.68 500.26 L2237.69 501.84 L2240.71 503.42 L2243.72 505 L2246.73 506.58 L2249.74 508.16 L2252.76 509.74 L2255.77 511.33 L2258.78 512.91 L2261.79 514.5" transform="scale(1.06 1)" fill="none" stroke="#e34817" stroke-width="8" stroke-linejoin="round" stroke-linecap="butt"/>
<path d="M1326.42 64.8 L1362.36 65.1 L1392.55 69 L1425.09 85.5 L1458.02 122.5 L1459.93 125.47 L1461.83 128.44 L1463.71 131.43 L1465.57 134.43 L1467.42 137.44 L1469.26 140.46 L1471.08 143.49 L1472.89 146.54 L1474.69 149.59 L1476.48 152.65 L1478.25 155.72 L1480.02 158.8 L1481.77 161.89 L1483.51 164.99 L1485.24 168.09 L1486.96 171.21 L1488.67 174.33 L1490.38 177.46 L1492.07 180.59 L1493.76 183.73 L1495.44 186.88 L1497.11 190.03 L1498.78 193.19 L1500.44 196.36 L1502.09 199.52 L1503.74 202.7 L1505.39 205.88 L1507.02 209.06 L1508.66 212.24 L1510.29 215.43 L1511.92 218.62 L1513.54 221.82 L1515.17 225.02 L1516.79 228.22 L1518.41 231.42 L1520.03 234.62 L1521.65 237.82 L1523.26 241.03 L1524.88 244.23 L1526.5 247.44 L1528.12 250.64 L1529.74 253.85 L1531.36 257.05 L1532.99 260.26 L1534.61 263.46 L1536.25 266.66 L1537.88 269.86 L1539.52 273.05 L1541.16 276.25 L1542.81 279.44 L1544.46 282.62 L1546.12 285.81 L1547.79 288.99 L1549.46 292.16 L1551.14 295.33 L1552.82 298.5 L1554.52 301.66 L1556.22 304.82 L1557.93 307.97 L1559.65 311.11 L1561.38 314.25 L1563.12 317.38 L1564.87 320.51 L1566.63 323.62 L1568.4 326.73 L1570.19 329.83 L1571.98 332.93 L1573.79 336.01 L1575.62 339.09 L1577.45 342.16 L1579.3 345.21 L1581.16 348.26 L1583.04 351.3 L1584.93 354.32 L1586.84 357.34 L1588.76 360.35 L1590.69 363.34 L1592.64 366.32 L1594.61 369.29 L1596.59 372.25 L1598.59 375.2 L1600.6 378.13 L1602.62 381.05 L1604.67 383.95 L1606.72 386.84 L1608.8 389.72 L1610.89 392.58 L1612.99 395.43 L1615.12 398.26 L1617.26 401.08 L1619.41 403.88 L1621.58 406.66 L1623.77 409.43 L1625.98 412.18 L1628.2 414.92 L1630.44 417.63 L1632.7 420.33 L1634.97 423.01 L1637.27 425.68 L1639.58 428.32 L1641.9 430.94 L1644.25 433.55 L1646.61 436.14 L1649 438.7 L1651.4 441.25 L1653.82 443.77 L1656.25 446.27 L1658.71 448.76 L1661.18 451.22 L1663.68 453.66 L1666.19 456.08 L1668.71 458.48 L1671.26 460.86 L1673.82 463.21 L1676.4 465.55 L1678.99 467.86 L1681.6 470.15 L1684.23 472.43 L1686.87 474.68 L1689.53 476.9 L1692.21 479.11 L1694.9 481.3 L1697.6 483.46 L1700.32 485.61 L1703.06 487.73 L1705.81 489.83 L1708.57 491.91 L1711.35 493.97 L1714.14 496 L1716.94 498.02 L1719.76 500.01 L1722.59 501.99 L1725.44 503.94 L1728.29 505.87 L1731.16 507.77 L1734.04 509.66 L1736.94 511.53 L1739.84 513.38 L1742.76 515.21 L1745.69 517.02 L1748.63 518.81 L1751.58 520.58 L1754.54 522.33 L1757.52 524.06 L1760.5 525.78 L1763.49 527.47 L1766.5 529.15 L1769.51 530.82 L1772.54 532.46 L1775.57 534.09 L1778.61 535.7 L1781.67 537.3 L1784.73 538.88 L1787.8 540.44 L1790.88 541.99 L1793.97 543.52 L1797.07 545.04 L1800.17 546.54 L1803.28 548.03 L1806.4 549.5 L1809.53 550.96 L1812.67 552.41 L1815.81 553.84 L1818.96 555.26 L1822.12 556.67 L1825.28 558.06 L1828.45 559.44 L1831.62 560.81 L1834.81 562.17 L1837.99 563.52 L1841.19 564.85 L1844.39 566.18 L1847.59 567.49 L1850.8 568.79 L1854.01 570.09 L1857.23 571.37 L1860.46 572.64 L1863.69 573.9 L1866.92 575.16 L1870.15 576.4 L1873.39 577.64 L1876.64 578.87 L1879.88 580.08 L1883.13 581.3 L1886.39 582.5 L1889.64 583.7 L1892.9 584.89 L1896.16 586.07 L1899.43 587.24 L1902.69 588.41 L1905.96 589.58 L1909.23 590.73 L1912.5 591.89 L1915.77 593.03 L1919.04 594.18 L1922.32 595.31 L1925.59 596.44 L1928.87 597.57 L1932.14 598.7 L1935.42 599.82 L1938.7 600.93 L1941.97 602.05 L1945.25 603.16 L1948.52 604.27 L1951.8 605.37 L1955.07 606.48 L1958.34 607.58 L1961.61 608.68 L1964.88 609.78 L1968.15 610.88 L1971.41 611.97 L1974.68 613.07 L1977.94 614.16 L1981.2 615.25 L1984.46 616.34 L1987.72 617.42 L1990.98 618.51 L1994.24 619.59 L1997.5 620.67 L2000.75 621.75 L2004.01 622.82 L2007.27 623.9 L2010.52 624.97 L2013.77 626.03 L2017.03 627.1 L2020.28 628.16 L2023.53 629.21 L2026.79 630.27 L2030.04 631.32 L2033.29 632.37 L2036.55 633.41 L2039.8 634.45 L2043.05 635.49 L2046.31 636.52 L2049.56 637.55 L2052.81 638.57 L2056.07 639.59 L2059.32 640.6 L2062.58 641.61 L2065.83 642.62 L2069.09 643.62 L2072.35 644.62 L2075.61 645.61 L2078.87 646.6 L2082.13 647.58 L2085.39 648.55 L2088.65 649.52 L2091.92 650.49 L2095.18 651.45 L2098.45 652.4 L2101.72 653.35 L2104.99 654.29 L2108.26 655.23 L2111.54 656.16 L2114.81 657.09 L2118.09 658 L2121.37 658.92 L2124.65 659.82 L2127.93 660.72 L2131.22 661.61 L2134.51 662.5 L2137.79 663.37 L2141.09 664.24 L2144.38 665.11 L2147.68 665.96 L2150.98 666.81 L2154.28 667.65 L2157.59 668.49 L2160.89 669.32 L2164.2 670.13 L2167.52 670.94 L2170.84 671.75 L2174.16 672.54 L2177.48 673.33 L2180.8 674.11 L2184.13 674.88 L2187.47 675.64 L2190.8 676.39 L2194.14 677.13 L2197.49 677.87 L2200.83 678.59 L2204.18 679.31 L2207.54 680.02 L2210.9 680.71 L2214.26 681.4 L2217.63 682.08 L2221 682.75 L2224.37 683.41 L2227.75 684.06 L2231.14 684.7 L2234.52 685.33 L2237.92 685.95 L2241.31 686.56 L2244.71 687.16 L2248.12 687.75 L2251.53 688.33 L2254.95 688.9 L2258.37 689.45 L2261.79 690" transform="scale(1.06 1)" fill="none" stroke="#4e49e2" stroke-width="8" stroke-linejoin="round" stroke-linecap="butt"/>
<text transform="matrix(0.7908 0 0 0.8085 37.94 109.89)" font-family="'Liberation Sans', Arial, Helvetica, sans-serif" font-size="100" font-weight="normal" font-style="normal" fill="#525252" stroke="#525252" stroke-width="1.0" stroke-linejoin="round" vector-effect="non-scaling-stroke">0.5</text>
<text transform="matrix(0.9116 0 0 0.9127 94.45 733.29)" font-family="'Liberation Sans', Arial, Helvetica, sans-serif" font-size="100" font-weight="normal" font-style="normal" fill="#525252" stroke="#525252" stroke-width="1.0" stroke-linejoin="round" vector-effect="non-scaling-stroke">0</text>
<text transform="matrix(0.8589 0 0 0.8915 159.86 790.81)" font-family="'Liberation Sans', Arial, Helvetica, sans-serif" font-size="100" font-weight="normal" font-style="normal" fill="#525252" stroke="#525252" stroke-width="1.0" stroke-linejoin="round" vector-effect="non-scaling-stroke">0</text>
<text transform="matrix(0.9158 0 0 0.9129 408.54 791.09)" font-family="'Liberation Sans', Arial, Helvetica, sans-serif" font-size="100" font-weight="normal" font-style="normal" fill="#525252" stroke="#525252" stroke-width="1.0" stroke-linejoin="round" vector-effect="non-scaling-stroke">5</text>
<text transform="matrix(0.8382 0 0 0.9057 876.81 795.59)" font-family="'Liberation Sans', Arial, Helvetica, sans-serif" font-size="100" font-weight="normal" font-style="normal" fill="#525252" stroke="#525252" stroke-width="1.0" stroke-linejoin="round" vector-effect="non-scaling-stroke">15</text>
<text transform="matrix(0.8585 0 0 0.8704 1108.21 792.23)" font-family="'Liberation Sans', Arial, Helvetica, sans-serif" font-size="100" font-weight="normal" font-style="normal" fill="#525252" stroke="#525252" stroke-width="1.0" stroke-linejoin="round" vector-effect="non-scaling-stroke">20</text>
<text transform="matrix(1.0182 0 0 1.1071 576.12 819.80)" font-family="'Liberation Sans', Arial, Helvetica, sans-serif" font-size="100" font-weight="normal" font-style="normal" fill="#000" stroke="#000" stroke-width="0.2" stroke-linejoin="round" vector-effect="non-scaling-stroke">Ω</text>
<text transform="matrix(0.7644 0 0 0.7638 651.84 834.56)" font-family="'Liberation Sans', Arial, Helvetica, sans-serif" font-size="100" font-weight="normal" font-style="normal" fill="#000" stroke="#000" stroke-width="0.2" stroke-linejoin="round" vector-effect="non-scaling-stroke">g</text>
<text transform="matrix(1.0873 0 0 1.0367 701.20 825.06)" font-family="'Liberation Sans', Arial, Helvetica, sans-serif" font-size="100" font-weight="normal" font-style="normal" fill="#000" stroke="#000" stroke-width="0.2" stroke-linejoin="round" vector-effect="non-scaling-stroke">/</text>
<text transform="matrix(1.0167 0 0 1.1071 738.42 819.80)" font-family="'Liberation Sans', Arial, Helvetica, sans-serif" font-size="100" font-weight="normal" font-style="normal" fill="#000" stroke="#000" stroke-width="0.2" stroke-linejoin="round" vector-effect="non-scaling-stroke">Ω</text>
<text transform="matrix(1.9165 0 0 1.8695 243.44 657.08)" font-family="'Liberation Serif', 'Times New Roman', Times, serif" font-size="100" font-weight="normal" font-style="normal" fill="#000" stroke="#000" stroke-width="0.5" stroke-linejoin="round" vector-effect="non-scaling-stroke">a</text>
<text transform="translate(137.10 437.65) rotate(-90) scale(1.2186 1.2116)" font-family="'Liberation Sans', Arial, Helvetica, sans-serif" font-size="100" font-weight="normal" font-style="normal" fill="#000" stroke="#000" stroke-width="0.2" stroke-linejoin="round" vector-effect="non-scaling-stroke">R</text>
<line x1="32" y1="366.2" x2="32" y2="429.1" stroke="#000" stroke-width="8" stroke-linecap="round"/>
<text transform="matrix(0.6962 0 0 0.7239 419.22 132.08)" font-family="'Liberation Sans', Arial, Helvetica, sans-serif" font-size="100" font-weight="normal" font-style="normal" fill="#686868" stroke="#686868" stroke-width="1.0" stroke-linejoin="round" vector-effect="non-scaling-stroke">0.7</text>
<text transform="matrix(0.6870 0 0 0.7028 417.75 234.00)" font-family="'Liberation Sans', Arial, Helvetica, sans-serif" font-size="100" font-weight="normal" font-style="normal" fill="#686868" stroke="#686868" stroke-width="1.0" stroke-linejoin="round" vector-effect="non-scaling-stroke">0.5</text>
<text transform="matrix(0.7346 0 0 0.7408 412.16 395.76)" font-family="'Liberation Sans', Arial, Helvetica, sans-serif" font-size="100" font-weight="normal" font-style="normal" fill="#686868" stroke="#686868" stroke-width="1.0" stroke-linejoin="round" vector-effect="non-scaling-stroke">0.2</text>
<text transform="matrix(0.7473 0 0 0.7817 412.71 500.02)" font-family="'Liberation Sans', Arial, Helvetica, sans-serif" font-size="100" font-weight="normal" font-style="normal" fill="#686868" stroke="#686868" stroke-width="1.0" stroke-linejoin="round" vector-effect="non-scaling-stroke">0.0</text>
<text transform="translate(490.40 320.58) rotate(-90) scale(0.8102 0.8957)" font-family="'Liberation Sans', Arial, Helvetica, sans-serif" font-size="100" font-weight="normal" font-style="normal" fill="#4c4c4c" stroke="#4c4c4c" stroke-width="1.0" stroke-linejoin="round" vector-effect="non-scaling-stroke">R</text>
<line x1="407.2" y1="262.9" x2="407.2" y2="326.1" stroke="#444" stroke-width="7.4" stroke-linecap="round"/>
<text transform="matrix(0.8211 0 0 0.8704 513.52 557.93)" font-family="'Liberation Sans', Arial, Helvetica, sans-serif" font-size="100" font-weight="normal" font-style="normal" fill="#686868" stroke="#686868" stroke-width="1.0" stroke-linejoin="round" vector-effect="non-scaling-stroke">0</text>
<text transform="matrix(0.7400 0 0 0.8028 609.35 554.20)" font-family="'Liberation Sans', Arial, Helvetica, sans-serif" font-size="100" font-weight="normal" font-style="normal" fill="#686868" stroke="#686868" stroke-width="1.0" stroke-linejoin="round" vector-effect="non-scaling-stroke">10</text>
<text transform="matrix(0.9348 0 0 0.9414 785.29 569.80)" font-family="'Liberation Sans', Arial, Helvetica, sans-serif" font-size="100" font-weight="normal" font-style="normal" fill="#505050" stroke="#505050" stroke-width="1.0" stroke-linejoin="round" vector-effect="non-scaling-stroke">Ω</text>
<text transform="matrix(0.8824 0 0 0.9771 857.28 569.82)" font-family="'Liberation Sans', Arial, Helvetica, sans-serif" font-size="100" font-weight="normal" font-style="normal" fill="#505050" stroke="#505050" stroke-width="1.0" stroke-linejoin="round" vector-effect="non-scaling-stroke">t</text>
<text transform="matrix(0.4283 0 0 0.4806 887.56 582.12)" font-family="'Liberation Serif', 'Times New Roman', Times, serif" font-size="100" font-weight="bold" font-style="normal" fill="#574848" stroke="#574848" stroke-width="0.4" stroke-linejoin="round" vector-effect="non-scaling-stroke">BS</text>
<text transform="matrix(0.8114 0 0 0.8070 976.77 552.69)" font-family="'Liberation Sans', Arial, Helvetica, sans-serif" font-size="100" font-weight="normal" font-style="normal" fill="#686868" stroke="#686868" stroke-width="1.0" stroke-linejoin="round" vector-effect="non-scaling-stroke">40</text>
<text transform="matrix(0.7585 0 0 0.7789 1094.07 550.32)" font-family="'Liberation Sans', Arial, Helvetica, sans-serif" font-size="100" font-weight="normal" font-style="normal" fill="#686868" stroke="#686868" stroke-width="1.0" stroke-linejoin="round" vector-effect="non-scaling-stroke">50</text>
<text transform="matrix(0.7420 0 0 0.7831 1282.54 99.02)" font-family="'Liberation Sans', Arial, Helvetica, sans-serif" font-size="100" font-weight="normal" font-style="normal" fill="#525252" stroke="#525252" stroke-width="1.0" stroke-linejoin="round" vector-effect="non-scaling-stroke">1.0</text>
<text transform="matrix(0.7556 0 0 0.7944 1282.28 280.91)" font-family="'Liberation Sans', Arial, Helvetica, sans-serif" font-size="100" font-weight="normal" font-style="normal" fill="#525252" stroke="#525252" stroke-width="1.0" stroke-linejoin="round" vector-effect="non-scaling-stroke">0.8</text>
<text transform="matrix(0.7664 0 0 0.7817 1277.23 552.92)" font-family="'Liberation Sans', Arial, Helvetica, sans-serif" font-size="100" font-weight="normal" font-style="normal" fill="#525252" stroke="#525252" stroke-width="1.0" stroke-linejoin="round" vector-effect="non-scaling-stroke">0.5</text>
<text transform="matrix(0.7770 0 0 0.8958 1276.89 727.30)" font-family="'Liberation Sans', Arial, Helvetica, sans-serif" font-size="100" font-weight="normal" font-style="normal" fill="#525252" stroke="#525252" stroke-width="1.0" stroke-linejoin="round" vector-effect="non-scaling-stroke">0.3</text>
<text transform="matrix(0.8359 0 0 0.8704 1355.16 788.03)" font-family="'Liberation Sans', Arial, Helvetica, sans-serif" font-size="100" font-weight="normal" font-style="normal" fill="#525252" stroke="#525252" stroke-width="1.0" stroke-linejoin="round" vector-effect="non-scaling-stroke">0.0</text>
<text transform="matrix(0.8262 0 0 0.8521 1557.00 789.85)" font-family="'Liberation Sans', Arial, Helvetica, sans-serif" font-size="100" font-weight="normal" font-style="normal" fill="#525252" stroke="#525252" stroke-width="1.0" stroke-linejoin="round" vector-effect="non-scaling-stroke">0.2</text>
<text transform="matrix(0.8299 0 0 0.8014 2142.78 783.40)" font-family="'Liberation Sans', Arial, Helvetica, sans-serif" font-size="100" font-weight="normal" font-style="normal" fill="#525252" stroke="#525252" stroke-width="1.0" stroke-linejoin="round" vector-effect="non-scaling-stroke">0.8</text>
<text transform="matrix(0.7725 0 0 0.8408 2314.01 780.56)" font-family="'Liberation Sans', Arial, Helvetica, sans-serif" font-size="100" font-weight="normal" font-style="normal" fill="#525252" stroke="#525252" stroke-width="1.0" stroke-linejoin="round" vector-effect="non-scaling-stroke">1.0</text>
<text transform="matrix(1.0106 0 0 1.1586 1796.55 833.50)" font-family="'Liberation Sans', Arial, Helvetica, sans-serif" font-size="100" font-weight="normal" font-style="normal" fill="#000" stroke="#000" stroke-width="0.2" stroke-linejoin="round" vector-effect="non-scaling-stroke">Ω</text>
<text transform="matrix(0.7489 0 0 0.7933 1878.00 854.14)" font-family="'Liberation Sans', Arial, Helvetica, sans-serif" font-size="100" font-weight="normal" font-style="normal" fill="#000" stroke="#000" stroke-width="0.2" stroke-linejoin="round" vector-effect="non-scaling-stroke">g</text>
<text transform="matrix(1.0691 0 0 1.0925 1925.40 832.41)" font-family="'Liberation Sans', Arial, Helvetica, sans-serif" font-size="100" font-weight="normal" font-style="normal" fill="#000" stroke="#000" stroke-width="0.2" stroke-linejoin="round" vector-effect="non-scaling-stroke">/</text>
<text transform="matrix(1.0121 0 0 1.1586 1955.55 833.50)" font-family="'Liberation Sans', Arial, Helvetica, sans-serif" font-size="100" font-weight="normal" font-style="normal" fill="#000" stroke="#000" stroke-width="0.2" stroke-linejoin="round" vector-effect="non-scaling-stroke">Ω</text>
<text transform="matrix(1.6304 0 0 1.6143 1467.95 661.24)" font-family="'Liberation Serif', 'Times New Roman', Times, serif" font-size="100" font-weight="normal" font-style="normal" fill="#000" stroke="#000" stroke-width="0.5" stroke-linejoin="round" vector-effect="non-scaling-stroke">b</text>
<text transform="matrix(1.2497 0 0 1.2969 1234.10 433.96)" font-family="'DejaVu Math TeX Gyre', 'DejaVu Serif', 'Liberation Serif', serif" font-size="100" font-weight="normal" font-style="normal" fill="#000" stroke="#000" stroke-width="0.6" stroke-linejoin="round" vector-effect="non-scaling-stroke">𝒱</text>
</svg>
</body></html>
